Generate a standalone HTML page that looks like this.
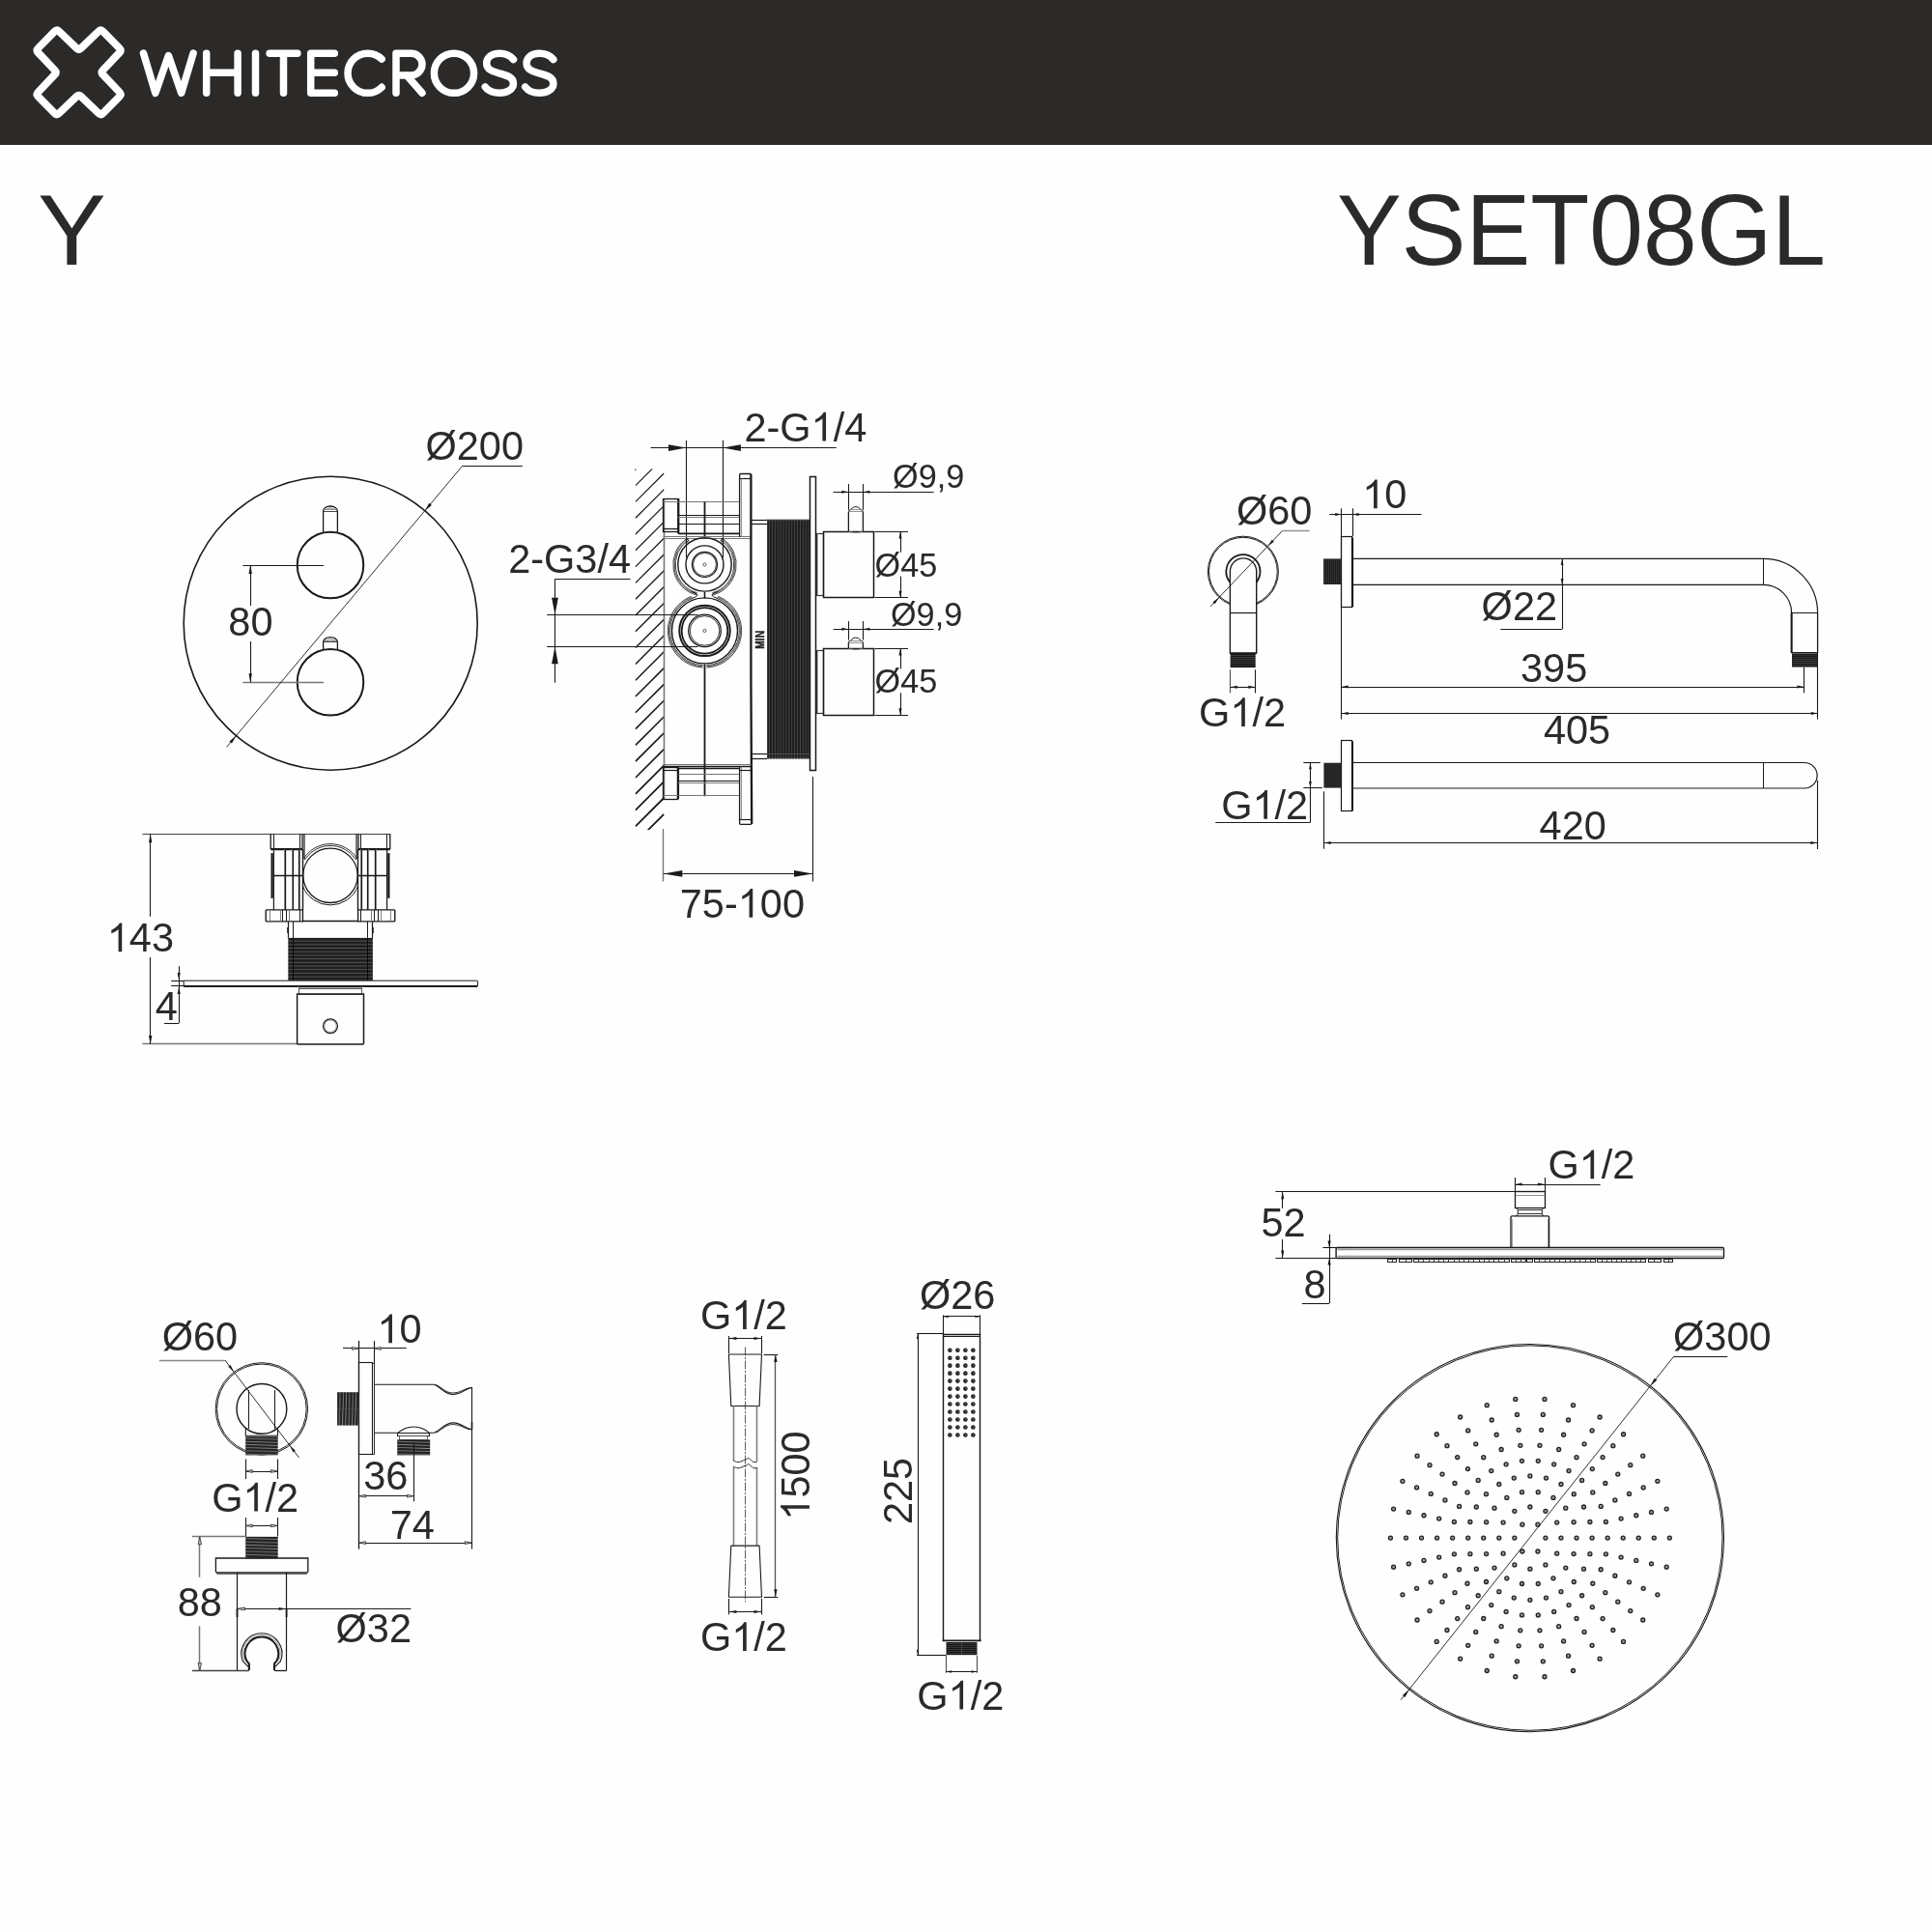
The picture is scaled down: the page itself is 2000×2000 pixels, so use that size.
<!DOCTYPE html>
<html><head><meta charset="utf-8"><title>YSET08GL</title><style>
html,body{margin:0;padding:0;background:#fefefe;width:2000px;height:2000px;overflow:hidden}
svg{display:block;will-change:transform}
text{font-family:"Liberation Sans",sans-serif;fill:#2b2a29}
</style></head><body>
<svg width="2000" height="2000" viewBox="0 0 2000 2000">
<rect x="0" y="0" width="2000" height="150" fill="#2b2a29"/>
<path d="M56.6 32.58Q58.85 30.3 61.16 32.52L79.29 49.93Q81.6 52.15 83.91 49.93L102.04 32.52Q104.35 30.3 106.6 32.58L123.65 49.87Q125.9 52.15 123.7 54.47L106.55 72.58Q104.35 74.9 106.55 77.22L123.7 95.33Q125.9 97.65 123.65 99.93L106.6 117.22Q104.35 119.5 102.04 117.28L83.91 99.87Q81.6 97.65 79.29 99.87L61.16 117.28Q58.85 119.5 56.6 117.22L39.55 99.93Q37.3 97.65 39.5 95.33L56.65 77.22Q58.85 74.9 56.65 72.58L39.5 54.47Q37.3 52.15 39.55 49.87Z" fill="none" stroke="#fff" stroke-width="7.8" stroke-linejoin="round"/>
<path d="M148.5 55.2L160.9 96.3L174.4 57.5L187.7 96.3L200.1 55.2" fill="none" stroke="#fff" stroke-width="7.5" stroke-linecap="round" stroke-linejoin="round"/>
<path d="M213.7 55.2V96.3M246.1 55.2V96.3M213.7 75.2H246.1" fill="none" stroke="#fff" stroke-width="7.5" stroke-linecap="round" stroke-linejoin="round"/>
<path d="M264.5 55.2V96.3" fill="none" stroke="#fff" stroke-width="7.5" stroke-linecap="round" stroke-linejoin="round"/>
<path d="M279.1 55.2H307.9M293.5 55.2V96.3" fill="none" stroke="#fff" stroke-width="7.5" stroke-linecap="round" stroke-linejoin="round"/>
<path d="M346.3 55.2H321.7V96.3H346.3M321.7 75.2H346.3" fill="none" stroke="#fff" stroke-width="7.5" stroke-linecap="round" stroke-linejoin="round"/>
<path d="M395.17 61.18A20.6 20.6 0 1 0 395.17 90.32" fill="none" stroke="#fff" stroke-width="7.5" stroke-linecap="round" stroke-linejoin="round"/>
<path d="M410 96.3V55.2H425.6A11.4 11.4 0 0 1 425.6 78H410M421 78L437 96.3" fill="none" stroke="#fff" stroke-width="7.5" stroke-linecap="round" stroke-linejoin="round"/>
<circle cx="470" cy="75.75" r="20.6" fill="none" stroke="#fff" stroke-width="7.5"/>
<path d="M531.5 61.6C527.9 57 522.9 55.2 516.9 55.2C508.9 55.2 503.7 59.5 503.7 65.5C503.7 72 509.9 74 516.9 76C524.9 78 531.5 80 531.5 86.5C531.5 92.5 524.9 96.3 516.9 96.3C510.9 96.3 505.4 94 502.3 90" fill="none" stroke="#fff" stroke-width="7.5" stroke-linecap="round" stroke-linejoin="round"/>
<path d="M572.9 61.6C569.3 57 564.3 55.2 558.3 55.2C550.3 55.2 545.1 59.5 545.1 65.5C545.1 72 551.3 74 558.3 76C566.3 78 572.9 80 572.9 86.5C572.9 92.5 566.3 96.3 558.3 96.3C552.3 96.3 546.8 94 543.7 90" fill="none" stroke="#fff" stroke-width="7.5" stroke-linecap="round" stroke-linejoin="round"/>
<g transform="translate(38.97 274)"><text transform="scale(1.06 1.04)" x="0" y="0" font-size="100">Y</text></g>
<g transform="translate(1384.1 274.3)"><text transform="scale(1.0 1.04)" x="0 66.7 133.4 200.1 261.18 316.8 372.42 450.2" y="0" font-size="100">YSET08GL</text></g>
<circle cx="342.2" cy="645.2" r="152" stroke="#1a1a1a" stroke-width="1.6" fill="none"/>
<circle cx="342" cy="585" r="34.3" stroke="#1a1a1a" stroke-width="2.0" fill="none"/>
<path d="M334.6 551.6V529.2A7.4 5.2 0 0 1 349.4 529.2V551.6" stroke="#1a1a1a" stroke-width="1.3" fill="none" />
<path d="M337.8 527.4A5 3 0 0 1 346.2 527.4" stroke="#555" stroke-width="0.7" fill="none" />
<path d="M334.6 529.5L349.4 529.5" stroke="#333" stroke-width="0.9" fill="none" />
<path d="M335.1 527.5L348.9 527.5" stroke="#666" stroke-width="0.7" fill="none" />
<circle cx="342" cy="706.2" r="34.3" stroke="#1a1a1a" stroke-width="2.0" fill="none"/>
<path d="M334.6 672.8V664.8A7.4 5.2 0 0 1 349.4 664.8V672.8" stroke="#1a1a1a" stroke-width="1.3" fill="none" />
<path d="M337.8 663A5 3 0 0 1 346.2 663" stroke="#555" stroke-width="0.7" fill="none" />
<path d="M334.6 664.5L349.4 664.5" stroke="#333" stroke-width="0.9" fill="none" />
<path d="M335.1 663.5L348.9 663.5" stroke="#666" stroke-width="0.7" fill="none" />
<path d="M251.4 585.5L335 585.5" stroke="#1a1a1a" stroke-width="1.2" fill="none" />
<path d="M251.4 706.5L335 706.5" stroke="#777" stroke-width="1.5" fill="none" />
<path d="M259.5 585L259.5 627" stroke="#1a1a1a" stroke-width="1.1" fill="none" />
<path d="M259.5 664L259.5 706.2" stroke="#1a1a1a" stroke-width="1.1" fill="none" />
<path d="M259.2 585L260.9 594L257.5 594Z" fill="#1a1a1a"/>
<path d="M259.2 706.2L257.5 697.2L260.9 697.2Z" fill="#1a1a1a"/>
<g transform="translate(236.34 658)"><text transform="scale(1.0 1.04)" x="0 23.08" y="0" font-size="41.5">80</text></g>
<path d="M478.7 482.3L234.6 773.4" stroke="#1a1a1a" stroke-width="0.9" fill="none" />
<path d="M439.81 528.68L444.29 520.69L446.89 522.88Z" fill="#1a1a1a"/>
<path d="M244.48 761.62L240 769.61L237.39 767.43Z" fill="#1a1a1a"/>
<path d="M478.7 482.5L540.8 482.5" stroke="#1a1a1a" stroke-width="1.1" fill="none" />
<g transform="translate(440.51 475.8)"><text transform="scale(1.0 1.04)" x="0 32.28 55.36 78.44" y="0" font-size="41.5">Ø200</text></g>
<clipPath id="hc"><rect x="657.3" y="485.5" width="30.4" height="373.6"/></clipPath>
<g clip-path="url(#hc)">
<path d="M657.9 502.6L687.3 473.2" stroke="#1a1a1a" stroke-width="1.15" fill="none" />
<path d="M657.9 519.4L687.3 490" stroke="#1a1a1a" stroke-width="1.18" fill="none" />
<path d="M657.9 536.2L687.3 506.8" stroke="#1a1a1a" stroke-width="1.21" fill="none" />
<path d="M657.9 553L687.3 523.6" stroke="#1a1a1a" stroke-width="1.24" fill="none" />
<path d="M657.9 569.8L687.3 540.4" stroke="#1a1a1a" stroke-width="1.27" fill="none" />
<path d="M657.9 586.6L687.3 557.2" stroke="#1a1a1a" stroke-width="1.2999999999999998" fill="none" />
<path d="M657.9 603.4L687.3 574" stroke="#1a1a1a" stroke-width="1.3299999999999998" fill="none" />
<path d="M657.9 620.2L687.3 590.8" stroke="#1a1a1a" stroke-width="1.3599999999999999" fill="none" />
<path d="M657.9 637L687.3 607.6" stroke="#1a1a1a" stroke-width="1.39" fill="none" />
<path d="M657.9 653.8L687.3 624.4" stroke="#1a1a1a" stroke-width="1.42" fill="none" />
<path d="M657.9 670.6L687.3 641.2" stroke="#1a1a1a" stroke-width="1.45" fill="none" />
<path d="M657.9 687.4L687.3 658" stroke="#1a1a1a" stroke-width="1.48" fill="none" />
<path d="M657.9 704.2L687.3 674.8" stroke="#1a1a1a" stroke-width="1.5099999999999998" fill="none" />
<path d="M657.9 721L687.3 691.6" stroke="#1a1a1a" stroke-width="1.54" fill="none" />
<path d="M657.9 737.8L687.3 708.4" stroke="#1a1a1a" stroke-width="1.5699999999999998" fill="none" />
<path d="M657.9 754.6L687.3 725.2" stroke="#1a1a1a" stroke-width="1.5999999999999999" fill="none" />
<path d="M657.9 771.4L687.3 742" stroke="#1a1a1a" stroke-width="1.63" fill="none" />
<path d="M657.9 788.2L687.3 758.8" stroke="#1a1a1a" stroke-width="1.66" fill="none" />
<path d="M657.9 805L687.3 775.6" stroke="#1a1a1a" stroke-width="1.69" fill="none" />
<path d="M657.9 821.8L687.3 792.4" stroke="#1a1a1a" stroke-width="1.7199999999999998" fill="none" />
<path d="M657.9 838.6L687.3 809.2" stroke="#1a1a1a" stroke-width="1.75" fill="none" />
<path d="M657.9 855.4L687.3 826" stroke="#1a1a1a" stroke-width="1.7799999999999998" fill="none" />
<path d="M657.9 872.2L687.3 842.8" stroke="#1a1a1a" stroke-width="1.8099999999999998" fill="none" />
<path d="M657.9 889L687.3 859.6" stroke="#1a1a1a" stroke-width="1.8399999999999999" fill="none" />
</g>
<circle cx="657.9" cy="486.3" r="0.7" stroke="#1a1a1a" stroke-width="0" fill="#1a1a1a"/>
<path d="M687.5 516.4L687.5 827.3" stroke="#777" stroke-width="1.6" fill="none" />
<path d="M673.6 463.5L865.8 463.5" stroke="#1a1a1a" stroke-width="1.1" fill="none" />
<path d="M710.5 455.9L710.5 577.3" stroke="#1a1a1a" stroke-width="1.1" fill="none" />
<path d="M748.5 455.9L748.5 577.3" stroke="#1a1a1a" stroke-width="1.1" fill="none" />
<path d="M710.4 463.6L692 467L692 460.2Z" fill="#1a1a1a"/>
<path d="M748.5 463.6L766.9 460.2L766.9 467Z" fill="#1a1a1a"/>
<g transform="translate(770.42 456.5)"><text transform="scale(1.0 1.04)" x="0 23.08 36.9 92.26 103.79" y="0" font-size="41.5">2-G/4</text><path transform="translate(69.18 0) scale(0.02026 -0.02026)" d="M763 0H583V1147Q518 1085 412.5 1023T223 930V1104Q374 1175 487 1276T647 1472H763Z" fill="#2b2a29"/></g>
<rect x="686.5" y="516.5" width="16" height="34" stroke="#1a1a1a" stroke-width="1.3" fill="none"/>
<path d="M702.2 516.6L702.2 552.4" stroke="#1a1a1a" stroke-width="2.2" fill="none" />
<path d="M686.6 519.5L702.2 519.5" stroke="#777" stroke-width="1.0" fill="none" />
<path d="M686.6 547.5L702.2 547.5" stroke="#1a1a1a" stroke-width="1.3" fill="none" />
<path d="M702.2 519.5L765.8 519.5" stroke="#777" stroke-width="1.2" fill="none" />
<path d="M702.2 533.5L765.8 533.5" stroke="#1a1a1a" stroke-width="1.2" fill="none" />
<path d="M702.2 535.5L765.8 535.5" stroke="#777" stroke-width="1.0" fill="none" />
<path d="M702.2 542.5L765.8 542.5" stroke="#1a1a1a" stroke-width="1.2" fill="none" />
<path d="M702.2 552.4L765.8 552.4" stroke="#1a1a1a" stroke-width="1.8" fill="none" />
<path d="M729.5 519.4L729.5 556" stroke="#1a1a1a" stroke-width="1.8" fill="none" />
<path d="M686.6 555.5L777.5 555.5" stroke="#777" stroke-width="1.0" fill="none" />
<path d="M686.6 557.5L777.5 557.5" stroke="#777" stroke-width="1.0" fill="none" />
<path d="M765.6 556V491.5Q765.6 490.5 766.6 490.5H776.5Q777.5 490.5 777.5 491.5" stroke="#1a1a1a" stroke-width="1.3" fill="none" />
<path d="M765.6 495.5L777.5 495.5" stroke="#1a1a1a" stroke-width="1.2" fill="none" />
<path d="M767.5 495.2L767.5 556" stroke="#777" stroke-width="0.8" fill="none" />
<path d="M777.4 491V700L778.2 853" stroke="#1a1a1a" stroke-width="2.3" fill="none" />
<path d="M686.6 791.5L777.5 791.5" stroke="#777" stroke-width="1.0" fill="none" />
<path d="M686.6 793.5L777.5 793.5" stroke="#1a1a1a" stroke-width="1.6" fill="none" />
<path d="M721.04 615.99A32.7 32.7 0 0 1 711.69 556.98" stroke="#1a1a1a" stroke-width="0.8" fill="none" />
<path d="M737.96 615.99A32.7 32.7 0 0 0 747.31 556.98" stroke="#1a1a1a" stroke-width="0.8" fill="none" />
<path d="M721.35 614.83A31.5 31.5 0 0 1 712.34 557.98" stroke="#1a1a1a" stroke-width="0.8" fill="none" />
<path d="M737.65 614.83A31.5 31.5 0 0 0 746.66 557.98" stroke="#1a1a1a" stroke-width="0.8" fill="none" />
<path d="M721.66 613.67A30.3 30.3 0 0 1 713 558.99" stroke="#1a1a1a" stroke-width="0.8" fill="none" />
<path d="M737.34 613.67A30.3 30.3 0 0 0 746 558.99" stroke="#1a1a1a" stroke-width="0.8" fill="none" />
<circle cx="729.5" cy="584.4" r="27.7" stroke="#1a1a1a" stroke-width="1.4" fill="none"/>
<circle cx="729.5" cy="584.4" r="19.5" stroke="#1a1a1a" stroke-width="1.4" fill="none"/>
<circle cx="729.5" cy="584.4" r="13" stroke="#1a1a1a" stroke-width="1.3" fill="none"/>
<circle cx="729.5" cy="584.4" r="11.9" stroke="#1a1a1a" stroke-width="0.8" fill="none"/>
<circle cx="729.5" cy="584.4" r="1.6" stroke="#1a1a1a" stroke-width="0.7" fill="none"/>
<path d="M710.5 556.5L712.8 559.3L711.3 561.5" stroke="#1a1a1a" stroke-width="1.0" fill="none" />
<path d="M748.5 556.5L746.2 559.3L747.7 561.5" stroke="#1a1a1a" stroke-width="1.0" fill="none" />
<path d="M729.5 613L729.5 619.7" stroke="#1a1a1a" stroke-width="1.6" fill="none" />
<path d="M716 612.5Q721.5 614 722.2 616Q721.5 618 716 619.5" stroke="#1a1a1a" stroke-width="1.0" fill="none" />
<path d="M743 612.5Q737.5 614 736.8 616Q737.5 618 743 619.5" stroke="#1a1a1a" stroke-width="1.0" fill="none" />
<path d="M727.5 691.05A38.2 38.2 0 0 1 715.81 617.24" stroke="#1a1a1a" stroke-width="0.8" fill="none" />
<path d="M731.5 691.05A38.2 38.2 0 0 0 743.19 617.24" stroke="#1a1a1a" stroke-width="0.8" fill="none" />
<path d="M727.56 689.85A37 37 0 0 1 716.24 618.36" stroke="#1a1a1a" stroke-width="0.8" fill="none" />
<path d="M731.44 689.85A37 37 0 0 0 742.76 618.36" stroke="#1a1a1a" stroke-width="0.8" fill="none" />
<path d="M727.63 688.65A35.8 35.8 0 0 1 716.67 619.48" stroke="#1a1a1a" stroke-width="0.8" fill="none" />
<path d="M731.37 688.65A35.8 35.8 0 0 0 742.33 619.48" stroke="#1a1a1a" stroke-width="0.8" fill="none" />
<circle cx="729.5" cy="652.9" r="34" stroke="#1a1a1a" stroke-width="1.4" fill="none"/>
<circle cx="729.5" cy="652.9" r="26.2" stroke="#1a1a1a" stroke-width="2.0" fill="none"/>
<circle cx="729.5" cy="652.9" r="23.8" stroke="#1a1a1a" stroke-width="1.8" fill="none"/>
<circle cx="729.5" cy="652.9" r="16.8" stroke="#1a1a1a" stroke-width="1.3" fill="none"/>
<circle cx="729.5" cy="652.9" r="15.3" stroke="#1a1a1a" stroke-width="0.9" fill="none"/>
<circle cx="729.5" cy="652.9" r="1.6" stroke="#1a1a1a" stroke-width="0.7" fill="none"/>
<path d="M729.5 687.5L729.5 824.3" stroke="#1a1a1a" stroke-width="1.8" fill="none" />
<path d="M566.1 636.5L722.4 636.5" stroke="#1a1a1a" stroke-width="1.1" fill="none" />
<path d="M566.1 669.5L722.4 669.5" stroke="#1a1a1a" stroke-width="1.1" fill="none" />
<path d="M574.5 599.5L574.5 706.7" stroke="#1a1a1a" stroke-width="1.1" fill="none" />
<path d="M574.5 599.5L652.6 599.5" stroke="#1a1a1a" stroke-width="1.1" fill="none" />
<path d="M574.5 636.3L571.1 618.7L577.9 618.7Z" fill="#1a1a1a"/>
<path d="M574.5 669.6L577.9 687.2L571.1 687.2Z" fill="#1a1a1a"/>
<g transform="translate(526.17 593)"><text transform="scale(1.0 1.04)" x="0 23.08 36.9 69.18 92.26 103.79" y="0" font-size="41.5">2-G3/4</text></g>
<pattern id="thr" x="794.1" y="0" width="2.9" height="10" patternUnits="userSpaceOnUse"><rect width="2.9" height="10" fill="#1c1c1c"/><rect x="2.0" width="0.9" height="10" fill="#4a4a4a"/></pattern>
<path d="M794.1 537.8H838.3L839 785.5H794.1Z" stroke="#1a1a1a" stroke-width="0" fill="url(#thr)" />
<path d="M794.1 538.5L838.3 538.5" stroke="#555" stroke-width="1.6" fill="none" stroke-dasharray="1.4 1.5"/>
<path d="M794.1 784.5L838.8 784.5" stroke="#444" stroke-width="1.6" fill="none" stroke-dasharray="1.4 1.5"/>
<path d="M794.1 780.5L838.8 780.5" stroke="#555" stroke-width="0.8" fill="none" />
<path d="M777.5 538.5L794.1 538.5" stroke="#1a1a1a" stroke-width="1.2" fill="none" />
<path d="M777.5 542.5L794.1 542.5" stroke="#1a1a1a" stroke-width="1.2" fill="none" />
<path d="M778 780.5L794.1 780.5" stroke="#1a1a1a" stroke-width="1.2" fill="none" />
<path d="M778 785.5L794.1 785.5" stroke="#1a1a1a" stroke-width="1.2" fill="none" />
<rect x="838.5" y="493.5" width="6" height="304" stroke="#1a1a1a" stroke-width="1.5" fill="#fefefe"/>
<text transform="translate(791 671.7) rotate(-90)" font-size="12.3" font-weight="bold" textLength="18.8" lengthAdjust="spacingAndGlyphs" fill="#1a1a1a" stroke="#1a1a1a" stroke-width="0.5">MIN</text>
<rect x="845.5" y="552.5" width="7" height="64" stroke="#333" stroke-width="1.2" fill="none"/>
<path d="M846.5 552.4L846.5 616.6" stroke="#999" stroke-width="0.8" fill="none" />
<rect x="852.5" y="550.5" width="52" height="68" stroke="#1a1a1a" stroke-width="1.5" fill="none"/>
<path d="M878.4 550.4V529.8M893.4 550.4V529.8" stroke="#1a1a1a" stroke-width="1.3" fill="none" />
<path d="M878.4 529.9Q878.4 527.9 880.4 527.7Q885.9 521.3 891.4 527.7Q893.4 527.9 893.4 529.9" stroke="#1a1a1a" stroke-width="1.0" fill="none" />
<path d="M878.4 529.5L893.4 529.5" stroke="#777" stroke-width="0.8" fill="none" />
<path d="M879.9 527.5L891.9 527.5" stroke="#777" stroke-width="0.8" fill="none" />
<path d="M878.4 550.4Q885.9 552.9 893.4 550.4" stroke="#777" stroke-width="0.8" fill="none" />
<rect x="845.5" y="673.5" width="7" height="65" stroke="#333" stroke-width="1.2" fill="none"/>
<path d="M846.5 673.4L846.5 738" stroke="#999" stroke-width="0.8" fill="none" />
<rect x="852.5" y="671.5" width="52" height="69" stroke="#1a1a1a" stroke-width="1.5" fill="none"/>
<path d="M878.4 671.4V665.3M893.4 671.4V665.3" stroke="#1a1a1a" stroke-width="1.3" fill="none" />
<path d="M878.4 665.4Q878.4 663.4 880.4 663.2Q885.9 656.8 891.4 663.2Q893.4 663.4 893.4 665.4" stroke="#1a1a1a" stroke-width="1.0" fill="none" />
<path d="M878.4 665.5L893.4 665.5" stroke="#777" stroke-width="0.8" fill="none" />
<path d="M879.9 663.5L891.9 663.5" stroke="#777" stroke-width="0.8" fill="none" />
<path d="M878.4 671.4Q885.9 673.9 893.4 671.4" stroke="#777" stroke-width="0.8" fill="none" />
<path d="M862.6 509.5L966.6 509.5" stroke="#1a1a1a" stroke-width="1.1" fill="none" />
<path d="M878.5 501L878.5 527.8" stroke="#1a1a1a" stroke-width="1.1" fill="none" />
<path d="M893.5 501L893.5 527.8" stroke="#1a1a1a" stroke-width="1.1" fill="none" />
<path d="M878.4 509.3L871.4 510.8L871.4 507.8Z" fill="#1a1a1a"/>
<path d="M893.4 509.3L900.4 507.8L900.4 510.8Z" fill="#1a1a1a"/>
<path d="M862.6 651.5L966.6 651.5" stroke="#1a1a1a" stroke-width="1.1" fill="none" />
<path d="M878.5 643.1L878.5 662.5" stroke="#1a1a1a" stroke-width="1.1" fill="none" />
<path d="M893.5 643.1L893.5 662.5" stroke="#1a1a1a" stroke-width="1.1" fill="none" />
<path d="M878.4 651.2L871.4 652.7L871.4 649.7Z" fill="#1a1a1a"/>
<path d="M893.4 651.2L900.4 649.7L900.4 652.7Z" fill="#1a1a1a"/>
<g transform="translate(924.12 505.4)"><text transform="scale(1.0 1.04)" x="0 26.6 45.62 55.13" y="0" font-size="34.2">Ø9,9</text></g>
<g transform="translate(922.02 648.1)"><text transform="scale(1.0 1.04)" x="0 26.6 45.62 55.13" y="0" font-size="34.2">Ø9,9</text></g>
<path d="M905.5 550.5L940 550.5" stroke="#1a1a1a" stroke-width="1.1" fill="none" />
<path d="M905.5 618.5L940 618.5" stroke="#1a1a1a" stroke-width="1.1" fill="none" />
<path d="M932.5 550.4L932.5 571.7" stroke="#1a1a1a" stroke-width="1.1" fill="none" />
<path d="M932.5 596.6L932.5 618.8" stroke="#1a1a1a" stroke-width="1.1" fill="none" />
<path d="M932 550.4L933.5 557.4L930.5 557.4Z" fill="#1a1a1a"/>
<path d="M932 618.8L930.5 611.8L933.5 611.8Z" fill="#1a1a1a"/>
<g transform="translate(905.58 596.6)"><text transform="scale(1.0 1.04)" x="0 26.6 45.62" y="0" font-size="34.2">Ø45</text></g>
<path d="M905.5 671.5L940 671.5" stroke="#1a1a1a" stroke-width="1.1" fill="none" />
<path d="M905.5 740.5L940 740.5" stroke="#1a1a1a" stroke-width="1.1" fill="none" />
<path d="M932.5 671.4L932.5 692.4" stroke="#1a1a1a" stroke-width="1.1" fill="none" />
<path d="M932.5 717.2L932.5 740.2" stroke="#1a1a1a" stroke-width="1.1" fill="none" />
<path d="M932 671.4L933.5 678.4L930.5 678.4Z" fill="#1a1a1a"/>
<path d="M932 740.2L930.5 733.2L933.5 733.2Z" fill="#1a1a1a"/>
<g transform="translate(905.58 717.2)"><text transform="scale(1.0 1.04)" x="0 26.6 45.62" y="0" font-size="34.2">Ø45</text></g>
<rect x="686.5" y="794.5" width="15" height="33" stroke="#1a1a1a" stroke-width="1.3" fill="none"/>
<path d="M702 794.3L702 827.3" stroke="#1a1a1a" stroke-width="2.2" fill="none" />
<path d="M686.6 797.5L701.9 797.5" stroke="#1a1a1a" stroke-width="1.2" fill="none" />
<path d="M686.6 823.5L701.9 823.5" stroke="#777" stroke-width="1.0" fill="none" />
<path d="M702.2 795.5L765.4 795.5" stroke="#1a1a1a" stroke-width="1.4" fill="none" />
<path d="M702.2 801.5L765.4 801.5" stroke="#777" stroke-width="1.0" fill="none" />
<path d="M702.2 808.5L765.4 808.5" stroke="#1a1a1a" stroke-width="1.2" fill="none" />
<path d="M702.2 810.5L765.4 810.5" stroke="#777" stroke-width="1.0" fill="none" />
<path d="M702.2 823.5L765.4 823.5" stroke="#777" stroke-width="1.2" fill="none" />
<path d="M765.6 793.6V852.3Q765.6 853.3 766.6 853.3H777Q778 853.3 778 852.3" stroke="#1a1a1a" stroke-width="1.3" fill="none" />
<path d="M765.6 848.5L778 848.5" stroke="#1a1a1a" stroke-width="1.2" fill="none" />
<path d="M767.5 793.6L767.5 848.4" stroke="#777" stroke-width="0.8" fill="none" />
<path d="M765.6 797.5L777.5 797.5" stroke="#1a1a1a" stroke-width="1.2" fill="none" />
<path d="M686.5 858L686.5 912.5" stroke="#777" stroke-width="1.4" fill="none" />
<path d="M841.5 804.1L841.5 912.5" stroke="#1a1a1a" stroke-width="1.1" fill="none" />
<path d="M686.8 904.5L841.5 904.5" stroke="#1a1a1a" stroke-width="1.1" fill="none" />
<path d="M686.8 904.4L706.3 901L706.3 907.8Z" fill="#1a1a1a"/>
<path d="M841.5 904.4L822 907.8L822 901Z" fill="#1a1a1a"/>
<g transform="translate(703.8 949.8)"><text transform="scale(1.0 1.04)" x="0 23.08 46.16 83.06 106.14" y="0" font-size="41.5">75-00</text><path transform="translate(59.98 0) scale(0.02026 -0.02026)" d="M763 0H583V1147Q518 1085 412.5 1023T223 930V1104Q374 1175 487 1276T647 1472H763Z" fill="#2b2a29"/></g>
<path d="M147.4 863.5L404.1 863.5" stroke="#444" stroke-width="1.2" fill="none" />
<path d="M147.4 1080.5L307.6 1080.5" stroke="#777" stroke-width="1.5" fill="none" />
<path d="M155.5 863.3L155.5 948.7" stroke="#1a1a1a" stroke-width="1.1" fill="none" />
<path d="M155.5 991L155.5 1080.9" stroke="#1a1a1a" stroke-width="1.1" fill="none" />
<path d="M155.7 863.3L157.4 872.3L154 872.3Z" fill="#1a1a1a"/>
<path d="M155.7 1080.9L154 1071.9L157.4 1071.9Z" fill="#1a1a1a"/>
<g transform="translate(110.78 985.2)"><text transform="scale(1.0 1.04)" x="23.08 46.16" y="0" font-size="41.5">43</text><path transform="translate(0 0) scale(0.02026 -0.02026)" d="M763 0H583V1147Q518 1085 412.5 1023T223 930V1104Q374 1175 487 1276T647 1472H763Z" fill="#2b2a29"/></g>
<path d="M371 863.3L371 878.6L403.8 878.6L403.8 863.3" stroke="#1a1a1a" stroke-width="1.3" fill="none" stroke-linejoin="round"/>
<path d="M373.5 863.3L373.5 878.6" stroke="#1a1a1a" stroke-width="1.0" fill="none" />
<path d="M400.5 863.3L400.5 878.6" stroke="#1a1a1a" stroke-width="1.0" fill="none" />
<path d="M371 879.5L403.8 879.5" stroke="#1a1a1a" stroke-width="1.4" fill="none" />
<path d="M369 863.3V888.5L367.8 889.8" stroke="#1a1a1a" stroke-width="1.2" fill="none" />
<path d="M400.6 879L400.6 941.9" stroke="#1a1a1a" stroke-width="1.2" fill="none" stroke-linejoin="round"/>
<path d="M370.5 879L370.5 941.9" stroke="#1a1a1a" stroke-width="1.4" fill="none" />
<path d="M373.5 879L373.5 941.9" stroke="#777" stroke-width="0.9" fill="none" />
<path d="M374.5 879L374.5 941.9" stroke="#1a1a1a" stroke-width="1.2" fill="none" />
<path d="M380.5 879L380.5 941.9" stroke="#1a1a1a" stroke-width="1.2" fill="none" />
<path d="M381.5 879L381.5 941.9" stroke="#777" stroke-width="0.9" fill="none" />
<path d="M388.5 879L388.5 941.9" stroke="#1a1a1a" stroke-width="1.3" fill="none" />
<path d="M389.5 879L389.5 941.9" stroke="#777" stroke-width="0.9" fill="none" />
<path d="M370.4 906.5L400.6 906.5" stroke="#1a1a1a" stroke-width="1.5" fill="none" />
<path d="M402.2 884V929" stroke="#1a1a1a" stroke-width="1.9" stroke-linecap="round" fill="none"/>
<path d="M403.5 883L403.5 930" stroke="#777" stroke-width="0.8" fill="none" />
<path d="M370.6 941.9H408Q408.8 941.9 408.8 942.7V953.1Q408.8 953.9 408 953.9H370.6Z" stroke="#1a1a1a" stroke-width="1.4" fill="none" />
<path d="M373.5 941.9L373.5 953.9" stroke="#1a1a1a" stroke-width="1.0" fill="none" />
<path d="M384.5 941.9L384.5 953.9" stroke="#777" stroke-width="1.0" fill="none" />
<path d="M387.5 941.9L387.5 953.9" stroke="#1a1a1a" stroke-width="1.0" fill="none" />
<path d="M391.5 941.9L391.5 953.9" stroke="#1a1a1a" stroke-width="1.0" fill="none" />
<path d="M394.5 941.9L394.5 953.9" stroke="#777" stroke-width="0.9" fill="none" />
<path d="M404.5 941.9L404.5 953.9" stroke="#777" stroke-width="0.9" fill="none" />
<path d="M385.5 953.9L385.5 970.9" stroke="#1a1a1a" stroke-width="1.2" fill="none" />
<path d="M380.5 953.9L380.5 970.9" stroke="#1a1a1a" stroke-width="1.0" fill="none" />
<path d="M385.9 960L385.9 966" stroke="#1a1a1a" stroke-width="1.8" fill="none" />
<path d="M313 863.3L313 878.6L280.2 878.6L280.2 863.3" stroke="#1a1a1a" stroke-width="1.3" fill="none" stroke-linejoin="round"/>
<path d="M310.5 863.3L310.5 878.6" stroke="#1a1a1a" stroke-width="1.0" fill="none" />
<path d="M283.5 863.3L283.5 878.6" stroke="#1a1a1a" stroke-width="1.0" fill="none" />
<path d="M313 879.5L280.2 879.5" stroke="#1a1a1a" stroke-width="1.4" fill="none" />
<path d="M315 863.3V888.5L316.2 889.8" stroke="#1a1a1a" stroke-width="1.2" fill="none" />
<path d="M283.4 879L283.4 941.9" stroke="#1a1a1a" stroke-width="1.2" fill="none" stroke-linejoin="round"/>
<path d="M313.5 879L313.5 941.9" stroke="#1a1a1a" stroke-width="1.4" fill="none" />
<path d="M310.5 879L310.5 941.9" stroke="#777" stroke-width="0.9" fill="none" />
<path d="M309.5 879L309.5 941.9" stroke="#1a1a1a" stroke-width="1.2" fill="none" />
<path d="M303.5 879L303.5 941.9" stroke="#1a1a1a" stroke-width="1.2" fill="none" />
<path d="M302.5 879L302.5 941.9" stroke="#777" stroke-width="0.9" fill="none" />
<path d="M295.5 879L295.5 941.9" stroke="#1a1a1a" stroke-width="1.3" fill="none" />
<path d="M294.5 879L294.5 941.9" stroke="#777" stroke-width="0.9" fill="none" />
<path d="M313.6 906.5L283.4 906.5" stroke="#1a1a1a" stroke-width="1.5" fill="none" />
<path d="M281.8 884V929" stroke="#1a1a1a" stroke-width="1.9" stroke-linecap="round" fill="none"/>
<path d="M280.5 883L280.5 930" stroke="#777" stroke-width="0.8" fill="none" />
<path d="M313.4 941.9H276Q275.2 941.9 275.2 942.7V953.1Q275.2 953.9 276 953.9H313.4Z" stroke="#1a1a1a" stroke-width="1.4" fill="none" />
<path d="M310.5 941.9L310.5 953.9" stroke="#1a1a1a" stroke-width="1.0" fill="none" />
<path d="M299.5 941.9L299.5 953.9" stroke="#777" stroke-width="1.0" fill="none" />
<path d="M296.5 941.9L296.5 953.9" stroke="#1a1a1a" stroke-width="1.0" fill="none" />
<path d="M292.5 941.9L292.5 953.9" stroke="#1a1a1a" stroke-width="1.0" fill="none" />
<path d="M290.5 941.9L290.5 953.9" stroke="#777" stroke-width="0.9" fill="none" />
<path d="M279.5 941.9L279.5 953.9" stroke="#777" stroke-width="0.9" fill="none" />
<path d="M298.5 953.9L298.5 970.9" stroke="#1a1a1a" stroke-width="1.2" fill="none" />
<path d="M303.5 953.9L303.5 970.9" stroke="#1a1a1a" stroke-width="1.0" fill="none" />
<path d="M298.1 960L298.1 966" stroke="#1a1a1a" stroke-width="1.8" fill="none" />
<path d="M313.4 953.5L370.6 953.5" stroke="#1a1a1a" stroke-width="1.3" fill="none" />
<circle cx="342" cy="906.3" r="28.2" stroke="#1a1a1a" stroke-width="1.3" fill="none"/>
<path d="M314.58 888.49A32.7 32.7 0 0 1 369.42 888.49" stroke="#1a1a1a" stroke-width="0.9" fill="none" />
<path d="M316.69 888.58A30.9 30.9 0 0 1 367.31 888.58" stroke="#1a1a1a" stroke-width="0.9" fill="none" />
<path d="M370.57 917.27A30.6 30.6 0 0 1 313.43 917.27" stroke="#1a1a1a" stroke-width="1.0" fill="none" />
<pattern id="thr2" x="0" y="970.9" width="10" height="3.7" patternUnits="userSpaceOnUse"><rect width="10" height="3.7" fill="#1e1e1e"/><rect y="2.7" width="10" height="1.0" fill="#555"/></pattern>
<rect x="298.3" y="970.9" width="87.6" height="44.1" stroke="#1a1a1a" stroke-width="0" fill="url(#thr2)"/>
<path d="M303.5 970.9L303.5 1015" stroke="#000" stroke-width="0.8" fill="none" />
<path d="M380.5 970.9L380.5 1015" stroke="#000" stroke-width="0.8" fill="none" />
<path d="M190.2 1015.2H493.8Q494.6 1015.2 494.6 1016V1020.2Q494.6 1021 493.8 1021H190.2Z" stroke="#1a1a1a" stroke-width="1.0" fill="#fefefe" />
<path d="M190.2 1021L494.2 1021" stroke="#1a1a1a" stroke-width="2.0" fill="none" />
<path d="M308.6 1020.9L309.8 1023H374.2L375.4 1020.9" stroke="#777" stroke-width="1.0" fill="none" />
<rect x="309.5" y="1023.5" width="65" height="6" stroke="#555" stroke-width="1.0" fill="none"/>
<path d="M307.6 1029.1H376.5V1080.1Q376.5 1080.9 375.7 1080.9H308.4Q307.6 1080.9 307.6 1080.1Z" stroke="#1a1a1a" stroke-width="1.5" fill="none" />
<circle cx="342" cy="1062.2" r="7.4" stroke="#1a1a1a" stroke-width="1.3" fill="none"/>
<circle cx="342" cy="1062.2" r="6.2" stroke="#777" stroke-width="0.7" fill="none"/>
<path d="M177.2 1015.5L190.2 1015.5" stroke="#1a1a1a" stroke-width="1.1" fill="none" />
<path d="M177.2 1020.5L190.2 1020.5" stroke="#1a1a1a" stroke-width="1.1" fill="none" />
<path d="M185.5 1000.2L185.5 1059.1" stroke="#1a1a1a" stroke-width="1.1" fill="none" />
<path d="M170 1059.5L185.2 1059.5" stroke="#1a1a1a" stroke-width="1.1" fill="none" />
<path d="M185.2 1015L183.7 1007L186.7 1007Z" fill="#1a1a1a"/>
<path d="M185.2 1020.9L186.7 1028.9L183.7 1028.9Z" fill="#1a1a1a"/>
<g transform="translate(160.69 1056.3)"><text transform="scale(1.0 1.04)" x="0" y="0" font-size="41.5">4</text></g>
<circle cx="1286.9" cy="591.7" r="36.5" stroke="#1a1a1a" stroke-width="1.0" fill="none"/>
<circle cx="1286.9" cy="591.7" r="35.4" stroke="#1a1a1a" stroke-width="1.0" fill="none"/>
<path d="M1273.42 603.01A17.6 17.6 0 1 1 1300.38 603.01" stroke="#1a1a1a" stroke-width="1.8" fill="none" />
<path d="M1273.4 676V591.5A13.65 13.65 0 0 1 1300.7 591.5V676Z" stroke="#1a1a1a" stroke-width="1.4" fill="#fefefe" />
<path d="M1273.4 634.5L1300.7 634.5" stroke="#1a1a1a" stroke-width="1.2" fill="none" />
<pattern id="t3" x="0" y="676.6" width="10" height="2.1" patternUnits="userSpaceOnUse"><rect width="10" height="2.1" fill="#161616"/><rect y="1.4" width="10" height="0.6" fill="#4d4d4d"/></pattern>
<rect x="1273.6" y="676.6" width="26.1" height="14.5" stroke="#1a1a1a" stroke-width="0" fill="url(#t3)"/>
<path d="M1273.4 676.5L1300.7 676.5" stroke="#1a1a1a" stroke-width="1.2" fill="none" />
<path d="M1327.7 549.3L1253.1 627.8" stroke="#1a1a1a" stroke-width="0.9" fill="none" />
<path d="M1312.31 565.5L1316.73 558.66L1318.91 560.73Z" fill="#1a1a1a"/>
<path d="M1262.02 618.41L1257.6 625.24L1255.43 623.18Z" fill="#1a1a1a"/>
<path d="M1327.7 549.5L1355.6 549.5" stroke="#999" stroke-width="1.6" fill="none" />
<g transform="translate(1280 542.9)"><text transform="scale(1.0 1.04)" x="0 32.28 55.36" y="0" font-size="41.5">Ø60</text></g>
<path d="M1273.5 693.2L1273.5 717.4" stroke="#555" stroke-width="1.2" fill="none" />
<path d="M1299.5 693.2L1299.5 717.4" stroke="#1a1a1a" stroke-width="1.1" fill="none" />
<path d="M1273.8 711.5L1299.3 711.5" stroke="#1a1a1a" stroke-width="1.1" fill="none" />
<path d="M1273.8 711.2L1280.8 709.7L1280.8 712.7Z" fill="#1a1a1a"/>
<path d="M1299.3 711.2L1292.3 712.7L1292.3 709.7Z" fill="#1a1a1a"/>
<g transform="translate(1241.09 752)"><text transform="scale(1.0 1.04)" x="0 55.36 66.89" y="0" font-size="41.5">G/2</text><path transform="translate(32.28 0) scale(0.02026 -0.02026)" d="M763 0H583V1147Q518 1085 412.5 1023T223 930V1104Q374 1175 487 1276T647 1472H763Z" fill="#2b2a29"/></g>
<rect x="1388.5" y="555.5" width="11" height="73" stroke="#1a1a1a" stroke-width="1.2" fill="none"/>
<path d="M1400.1 556.5L1400.1 628.4" stroke="#1a1a1a" stroke-width="2.0" fill="none" />
<pattern id="t4" x="1370.1" y="0" width="2.0" height="10" patternUnits="userSpaceOnUse"><rect width="2.0" height="10" fill="#161616"/><rect x="1.3" width="0.6" height="10" fill="#4d4d4d"/></pattern>
<rect x="1370.1" y="578.4" width="18.6" height="26.6" stroke="#1a1a1a" stroke-width="0" fill="url(#t4)"/>
<path d="M1400.1 578.4H1825.5A56.1 56.1 0 0 1 1881.6 634.5V675.6H1854.6V634.5A29.1 29.1 0 0 0 1825.5 605.4H1400.1" stroke="#1a1a1a" stroke-width="1.2" fill="none" />
<path d="M1825.5 578.4L1825.5 605.4" stroke="#1a1a1a" stroke-width="1.0" fill="none" />
<path d="M1854.6 634.5L1881.6 634.5" stroke="#1a1a1a" stroke-width="1.0" fill="none" />
<path d="M1854.6 634.5L1854.6 675.6" stroke="#1a1a1a" stroke-width="2.0" fill="none" />
<pattern id="t5" x="0" y="676.4" width="10" height="2.1" patternUnits="userSpaceOnUse"><rect width="10" height="2.1" fill="#161616"/><rect y="1.4" width="10" height="0.6" fill="#4d4d4d"/></pattern>
<rect x="1855" y="676.4" width="26.2" height="14.2" stroke="#1a1a1a" stroke-width="0" fill="url(#t5)"/>
<path d="M1376.3 532.5L1471.6 532.5" stroke="#1a1a1a" stroke-width="1.1" fill="none" />
<path d="M1388.5 526.3L1388.5 744.6" stroke="#1a1a1a" stroke-width="1.1" fill="none" />
<path d="M1400.5 526.3L1400.5 555.3" stroke="#1a1a1a" stroke-width="1.1" fill="none" />
<path d="M1388.7 532.5L1382.2 533.9L1382.2 531.1Z" fill="#1a1a1a"/>
<path d="M1400.1 532.5L1406.6 531.1L1406.6 533.9Z" fill="#1a1a1a"/>
<g transform="translate(1410.26 526.3)"><text transform="scale(1.0 1.04)" x="23.08" y="0" font-size="41.5">0</text><path transform="translate(0 0) scale(0.02026 -0.02026)" d="M763 0H583V1147Q518 1085 412.5 1023T223 930V1104Q374 1175 487 1276T647 1472H763Z" fill="#2b2a29"/></g>
<path d="M1617.5 578.4L1617.5 651.2" stroke="#1a1a1a" stroke-width="1.1" fill="none" />
<path d="M1553.3 651.5L1617.1 651.5" stroke="#1a1a1a" stroke-width="1.1" fill="none" />
<path d="M1617.1 578.4L1618.5 584.9L1615.7 584.9Z" fill="#1a1a1a"/>
<path d="M1617.1 605.4L1615.7 598.9L1618.5 598.9Z" fill="#1a1a1a"/>
<g transform="translate(1533.61 642.3)"><text transform="scale(1.0 1.04)" x="0 32.28 55.36" y="0" font-size="41.5">Ø22</text></g>
<path d="M1388.7 711.5L1867.4 711.5" stroke="#1a1a1a" stroke-width="1.1" fill="none" />
<path d="M1867.5 690.6L1867.5 717.4" stroke="#1a1a1a" stroke-width="1.1" fill="none" />
<path d="M1388.7 711.1L1395.7 709.6L1395.7 712.6Z" fill="#1a1a1a"/>
<path d="M1867.4 711.1L1860.4 712.6L1860.4 709.6Z" fill="#1a1a1a"/>
<g transform="translate(1574.05 705.8)"><text transform="scale(1.0 1.04)" x="0 23.08 46.16" y="0" font-size="41.5">395</text></g>
<path d="M1388.7 738.5L1881.8 738.5" stroke="#1a1a1a" stroke-width="1.1" fill="none" />
<path d="M1881.5 634.5L1881.5 744.6" stroke="#1a1a1a" stroke-width="1.1" fill="none" />
<path d="M1388.7 738.4L1395.7 736.9L1395.7 739.9Z" fill="#1a1a1a"/>
<path d="M1881.8 738.4L1874.8 739.9L1874.8 736.9Z" fill="#1a1a1a"/>
<g transform="translate(1597.97 769.7)"><text transform="scale(1.0 1.04)" x="0 23.08 46.16" y="0" font-size="41.5">405</text></g>
<rect x="1388.5" y="766.5" width="11" height="73" stroke="#1a1a1a" stroke-width="1.2" fill="none"/>
<path d="M1400 767.3L1400 839.4" stroke="#1a1a1a" stroke-width="2.0" fill="none" />
<pattern id="t6" x="1370.4" y="0" width="2.0" height="10" patternUnits="userSpaceOnUse"><rect width="2.0" height="10" fill="#161616"/><rect x="1.3" width="0.6" height="10" fill="#4d4d4d"/></pattern>
<rect x="1370.4" y="789.7" width="17.8" height="25.9" stroke="#1a1a1a" stroke-width="0" fill="url(#t6)"/>
<path d="M1400 789.5H1867.9A13.25 13.25 0 0 1 1867.9 816H1400" stroke="#1a1a1a" stroke-width="1.2" fill="none" />
<path d="M1825.5 789.5L1825.5 816" stroke="#1a1a1a" stroke-width="1.0" fill="none" />
<path d="M1349.3 789.5L1366.7 789.5" stroke="#1a1a1a" stroke-width="1.1" fill="none" />
<path d="M1349.3 815.5L1368.8 815.5" stroke="#1a1a1a" stroke-width="1.1" fill="none" />
<path d="M1356.5 789.7L1356.5 851.4" stroke="#1a1a1a" stroke-width="1.1" fill="none" />
<path d="M1258.2 851.5L1356.4 851.5" stroke="#1a1a1a" stroke-width="1.1" fill="none" />
<path d="M1356.4 789.7L1357.8 796.2L1355 796.2Z" fill="#1a1a1a"/>
<path d="M1356.4 815.6L1355 809.1L1357.8 809.1Z" fill="#1a1a1a"/>
<g transform="translate(1264.19 847.7)"><text transform="scale(1.0 1.04)" x="0 55.36 66.89" y="0" font-size="41.5">G/2</text><path transform="translate(32.28 0) scale(0.02026 -0.02026)" d="M763 0H583V1147Q518 1085 412.5 1023T223 930V1104Q374 1175 487 1276T647 1472H763Z" fill="#2b2a29"/></g>
<path d="M1370.5 819.3L1370.5 878.7" stroke="#1a1a1a" stroke-width="1.1" fill="none" />
<path d="M1881.5 808L1881.5 879" stroke="#1a1a1a" stroke-width="1.1" fill="none" />
<path d="M1370.6 872.5L1881.4 872.5" stroke="#1a1a1a" stroke-width="1.1" fill="none" />
<path d="M1370.6 872.6L1377.6 871.1L1377.6 874.1Z" fill="#1a1a1a"/>
<path d="M1881.4 872.6L1874.4 874.1L1874.4 871.1Z" fill="#1a1a1a"/>
<g transform="translate(1593.56 868.5)"><text transform="scale(1.0 1.04)" x="0 23.08 46.16" y="0" font-size="41.5">420</text></g>
<circle cx="270.9" cy="1458.4" r="47.7" stroke="#1a1a1a" stroke-width="1.0" fill="none"/>
<circle cx="270.9" cy="1458.4" r="46.3" stroke="#1a1a1a" stroke-width="1.0" fill="none"/>
<circle cx="270.9" cy="1458.4" r="25.9" stroke="#1a1a1a" stroke-width="1.4" fill="none"/>
<path d="M257.5 1439L257.5 1479" stroke="#1a1a1a" stroke-width="1.0" fill="none" />
<path d="M284.5 1439L284.5 1479" stroke="#1a1a1a" stroke-width="1.0" fill="none" />
<path d="M254.3 1479V1486.3H287.5V1479" stroke="#1a1a1a" stroke-width="1.1" fill="none" />
<path d="M254.3 1479.5L257.1 1479.5" stroke="#1a1a1a" stroke-width="1.0" fill="none" />
<path d="M284.5 1479.5L287.5 1479.5" stroke="#1a1a1a" stroke-width="1.0" fill="none" />
<pattern id="t7" x="254.2" y="1487.2" width="40" height="3.2" patternUnits="userSpaceOnUse"><rect width="40" height="3.2" fill="#222"/><path d="M0 1.76L40 3.04" stroke="#8a8a8a" stroke-width="0.9"/></pattern>
<rect x="254.2" y="1487.2" width="33.5" height="19.2" stroke="#1a1a1a" stroke-width="0" fill="url(#t7)"/>
<path d="M232.9 1408L309.7 1509.2" stroke="#1a1a1a" stroke-width="0.9" fill="none" />
<path d="M242.22 1420.28L236.19 1414.82L238.58 1413Z" fill="#1a1a1a"/>
<path d="M299.89 1496.28L305.92 1501.74L303.53 1503.56Z" fill="#1a1a1a"/>
<path d="M164.9 1408.5L232.9 1408.5" stroke="#888" stroke-width="1.5" fill="none" />
<g transform="translate(167.7 1398.1)"><text transform="scale(1.0 1.04)" x="0 32.28 55.36" y="0" font-size="41.5">Ø60</text></g>
<path d="M254.5 1510.5L254.5 1531" stroke="#1a1a1a" stroke-width="1.1" fill="none" />
<path d="M287.5 1510.5L287.5 1531" stroke="#1a1a1a" stroke-width="1.1" fill="none" />
<path d="M254.3 1523.5L287.5 1523.5" stroke="#1a1a1a" stroke-width="1.1" fill="none" />
<path d="M254.3 1523L261.3 1521.6L261.3 1524.4Z" fill="#bbb" stroke="#333" stroke-width="0.8"/>
<path d="M287.5 1523L280.5 1524.4L280.5 1521.6Z" fill="#bbb" stroke="#333" stroke-width="0.8"/>
<path d="M254.5 1571L254.5 1590.6" stroke="#1a1a1a" stroke-width="1.1" fill="none" />
<path d="M287.5 1571L287.5 1590.6" stroke="#1a1a1a" stroke-width="1.1" fill="none" />
<path d="M254.3 1579.5L287.5 1579.5" stroke="#1a1a1a" stroke-width="1.1" fill="none" />
<path d="M254.3 1579.4L261.3 1578L261.3 1580.8Z" fill="#bbb" stroke="#333" stroke-width="0.8"/>
<path d="M287.5 1579.4L280.5 1580.8L280.5 1578Z" fill="#bbb" stroke="#333" stroke-width="0.8"/>
<g transform="translate(219.14 1564.5)"><text transform="scale(1.0 1.04)" x="0 55.36 66.89" y="0" font-size="41.5">G/2</text><path transform="translate(32.28 0) scale(0.02026 -0.02026)" d="M763 0H583V1147Q518 1085 412.5 1023T223 930V1104Q374 1175 487 1276T647 1472H763Z" fill="#2b2a29"/></g>
<path d="M371.5 1388.1L371.5 1603.6" stroke="#1a1a1a" stroke-width="1.3" fill="none" />
<rect x="371.5" y="1410.5" width="14" height="95" stroke="#1a1a1a" stroke-width="1.1" fill="none"/>
<path d="M387.5 1388.1L387.5 1410.8" stroke="#1a1a1a" stroke-width="1.1" fill="none" />
<rect x="385.5" y="1411.5" width="2" height="94" stroke="#1a1a1a" stroke-width="0.9" fill="none"/>
<pattern id="t8" x="349.1" y="1441.2" width="3.3" height="40" patternUnits="userSpaceOnUse"><rect width="3.3" height="40" fill="#222"/><path d="M1.81 40L3.13 0" stroke="#8a8a8a" stroke-width="0.9"/></pattern>
<rect x="349.1" y="1441.2" width="22.2" height="34.4" stroke="#1a1a1a" stroke-width="0" fill="url(#t8)"/>
<path d="M349.1 1458.5L371.3 1458.5" stroke="#555" stroke-width="0.5" fill="none" />
<path d="M387.6 1433.3H449.3C456 1435.5 460 1443.5 469.2 1443.5C477.5 1443.5 482 1437.3 488.2 1436.4" stroke="#1a1a1a" stroke-width="1.1" fill="none" />
<path d="M451 1433.4C457.5 1436 461 1442 469.2 1442C476.5 1442 480.5 1437.5 486 1436.8" stroke="#1a1a1a" stroke-width="0.9" fill="none" />
<path d="M387.6 1483.2H412C416.5 1479.5 422 1477 428.2 1477C434.5 1477 440 1479.5 444.3 1483.2H449.3C456 1481 460 1472.9 469.2 1472.9C477.5 1472.9 482 1479 488.2 1479.9" stroke="#1a1a1a" stroke-width="1.1" fill="none" />
<path d="M451 1483.2C457.5 1480.5 461 1474.5 469.2 1474.5C476.5 1474.5 480.5 1479 486 1479.6" stroke="#1a1a1a" stroke-width="0.9" fill="none" />
<path d="M488.5 1436L488.5 1603.6" stroke="#1a1a1a" stroke-width="1.1" fill="none" />
<path d="M488.5 1472L488.5 1480" stroke="#1a1a1a" stroke-width="1.6" fill="none" />
<rect x="411.5" y="1483.5" width="33" height="3" stroke="#1a1a1a" stroke-width="1.0" fill="none"/>
<rect x="413.5" y="1486.5" width="29" height="4" stroke="#555" stroke-width="0.9" fill="none"/>
<pattern id="t9" x="411.2" y="1490.3" width="40" height="3.2" patternUnits="userSpaceOnUse"><rect width="40" height="3.2" fill="#222"/><path d="M0 1.76L40 3.04" stroke="#8a8a8a" stroke-width="0.9"/></pattern>
<rect x="411.2" y="1490.3" width="34" height="16.1" stroke="#1a1a1a" stroke-width="0" fill="url(#t9)"/>
<path d="M355 1395.5L420.7 1395.5" stroke="#1a1a1a" stroke-width="1.1" fill="none" />
<path d="M371.6 1395.9L364.6 1397.3L364.6 1394.5Z" fill="#bbb" stroke="#333" stroke-width="0.8"/>
<path d="M387.3 1395.9L394.3 1394.5L394.3 1397.3Z" fill="#bbb" stroke="#333" stroke-width="0.8"/>
<g transform="translate(390.51 1390.3)"><text transform="scale(1.0 1.04)" x="23.08" y="0" font-size="41.5">0</text><path transform="translate(0 0) scale(0.02026 -0.02026)" d="M763 0H583V1147Q518 1085 412.5 1023T223 930V1104Q374 1175 487 1276T647 1472H763Z" fill="#2b2a29"/></g>
<path d="M428.5 1493L428.5 1554.3" stroke="#1a1a1a" stroke-width="1.1" fill="none" />
<path d="M371.6 1548.5L428.5 1548.5" stroke="#1a1a1a" stroke-width="1.1" fill="none" />
<path d="M371.6 1548.7L378.6 1547.3L378.6 1550.1Z" fill="#bbb" stroke="#333" stroke-width="0.8"/>
<path d="M428.5 1548.7L421.5 1550.1L421.5 1547.3Z" fill="#bbb" stroke="#333" stroke-width="0.8"/>
<g transform="translate(376.25 1542.2)"><text transform="scale(1.0 1.04)" x="0 23.08" y="0" font-size="41.5">36</text></g>
<path d="M371.6 1597.5L488.2 1597.5" stroke="#1a1a1a" stroke-width="1.1" fill="none" />
<path d="M371.6 1597.1L378.6 1595.7L378.6 1598.5Z" fill="#bbb" stroke="#333" stroke-width="0.8"/>
<path d="M488.2 1597.1L481.2 1598.5L481.2 1595.7Z" fill="#bbb" stroke="#333" stroke-width="0.8"/>
<g transform="translate(403.63 1592.8)"><text transform="scale(1.0 1.04)" x="0 23.08" y="0" font-size="41.5">74</text></g>
<pattern id="t10" x="254.2" y="1590.8" width="40" height="3.3" patternUnits="userSpaceOnUse"><rect width="40" height="3.3" fill="#222"/><path d="M0 1.81L40 3.13" stroke="#8a8a8a" stroke-width="0.9"/></pattern>
<rect x="254.2" y="1590.8" width="33.5" height="22.7" stroke="#1a1a1a" stroke-width="0" fill="url(#t10)"/>
<path d="M223.4 1613H318.8V1626.8L317.8 1628H224.4L223.4 1626.8Z" stroke="#1a1a1a" stroke-width="1.3" fill="none" />
<path d="M224.4 1629.5L317.8 1629.5" stroke="#777" stroke-width="1.0" fill="none" />
<path d="M245.5 1628L245.5 1729.5" stroke="#1a1a1a" stroke-width="1.2" fill="none" />
<path d="M296.5 1628L296.5 1729.5" stroke="#1a1a1a" stroke-width="1.2" fill="none" />
<path d="M198.8 1590.5L254.2 1590.5" stroke="#777" stroke-width="1.5" fill="none" />
<path d="M198.8 1729.5L257.5 1729.5" stroke="#444" stroke-width="1.5" fill="none" />
<path d="M284.4 1729.5L296.6 1729.5" stroke="#1a1a1a" stroke-width="1.3" fill="none" />
<path d="M206.5 1590.8L206.5 1632.7" stroke="#777" stroke-width="1.5" fill="none" />
<path d="M206.5 1683.5L206.5 1729.5" stroke="#777" stroke-width="1.5" fill="none" />
<path d="M206.8 1590.8L208.5 1598.8L205.1 1598.8Z" fill="#bbb" stroke="#333" stroke-width="0.8"/>
<path d="M206.8 1729.5L205.1 1721.5L208.5 1721.5Z" fill="#bbb" stroke="#333" stroke-width="0.8"/>
<g transform="translate(183.79 1672.7)"><text transform="scale(1.0 1.04)" x="0 23.08" y="0" font-size="41.5">88</text></g>
<path d="M245.5 1665.5L425.4 1665.5" stroke="#1a1a1a" stroke-width="1.1" fill="none" />
<path d="M245.5 1665.4L245.5 1674" stroke="#1a1a1a" stroke-width="1.8" fill="none" />
<path d="M296.6 1665.4L296.6 1674" stroke="#1a1a1a" stroke-width="1.8" fill="none" />
<path d="M245.5 1665.4L253.5 1663.9L253.5 1666.9Z" fill="#bbb" stroke="#333" stroke-width="0.8"/>
<path d="M296.6 1665.4L288.6 1666.9L288.6 1663.9Z" fill="#1a1a1a"/>
<g transform="translate(347.56 1700.1)"><text transform="scale(1.0 1.04)" x="0 32.28 55.36" y="0" font-size="41.5">Ø32</text></g>
<path d="M257.5 1729.5V1725.8L251.57 1720.01A21 21 0 1 1 290.23 1720.01L284.3 1725.8V1729.5" stroke="#1a1a1a" stroke-width="1.1" fill="none" />
<path d="M253.13 1719.34A19.3 19.3 0 1 1 288.67 1719.34" stroke="#777" stroke-width="0.7" fill="none" />
<path d="M257.9 1729V1722.4L255.22 1719.11A17.3 17.3 0 1 1 286.58 1719.11L283.9 1722.4V1729" stroke="#1a1a1a" stroke-width="2.0" fill="none" stroke-linejoin="round"/>
<g transform="translate(724.99 1375.9)"><text transform="scale(1.0 1.04)" x="0 55.36 66.89" y="0" font-size="41.5">G/2</text><path transform="translate(32.28 0) scale(0.02026 -0.02026)" d="M763 0H583V1147Q518 1085 412.5 1023T223 930V1104Q374 1175 487 1276T647 1472H763Z" fill="#2b2a29"/></g>
<path d="M754.5 1383L754.5 1401" stroke="#1a1a1a" stroke-width="1.1" fill="none" />
<path d="M788.5 1383L788.5 1401" stroke="#1a1a1a" stroke-width="1.1" fill="none" />
<path d="M754.4 1385.5L788.5 1385.5" stroke="#1a1a1a" stroke-width="1.1" fill="none" />
<path d="M754.4 1385.6L762.4 1384.1L762.4 1387.1Z" fill="#1a1a1a"/>
<path d="M788.5 1385.6L780.5 1387.1L780.5 1384.1Z" fill="#1a1a1a"/>
<path d="M754.4 1402L788.5 1402L786.1 1455.5L756.8 1455.5Z" stroke="#1a1a1a" stroke-width="1.1" fill="none" stroke-linejoin="round"/>
<path d="M759.5 1455.5L759.5 1512.3" stroke="#808080" stroke-width="1.6" fill="none" />
<path d="M783.5 1455.5L783.5 1512.8" stroke="#808080" stroke-width="1.6" fill="none" />
<path d="M759.5 1518.6L759.5 1600.1" stroke="#808080" stroke-width="1.6" fill="none" />
<path d="M783.5 1519L783.5 1600.1" stroke="#808080" stroke-width="1.6" fill="none" />
<path d="M759.2 1511.8C762 1514 765.5 1514.2 769.5 1511.8C771.5 1510.6 773 1511.4 774.5 1509.2C777 1510.5 779.5 1515.2 783.7 1513.2" stroke="#222" stroke-width="1.0" fill="none" />
<path d="M759.2 1518C762 1520.2 765.5 1520.4 769.5 1518C771.5 1516.8 773 1517.6 774.5 1515.4C777 1516.7 779.5 1521.4 783.7 1519.4" stroke="#222" stroke-width="1.0" fill="none" />
<path d="M756.8 1600.1L786.1 1600.1L788.5 1653.2L754.4 1653.2Z" stroke="#1a1a1a" stroke-width="1.1" fill="none" stroke-linejoin="round"/>
<path d="M771.5 1394.5L771.5 1658.4" stroke="#333" stroke-width="0.8" fill="none" stroke-dasharray="9 1.5 2 1.5"/>
<path d="M790.7 1402.5L805.3 1402.5" stroke="#1a1a1a" stroke-width="1.1" fill="none" />
<path d="M790.7 1653.5L805.3 1653.5" stroke="#1a1a1a" stroke-width="1.1" fill="none" />
<path d="M802.5 1402L802.5 1653.2" stroke="#555" stroke-width="1.3" fill="none" />
<path d="M802.9 1402L804.5 1410L801.3 1410Z" fill="#1a1a1a"/>
<path d="M802.9 1653.2L801.3 1645.2L804.5 1645.2Z" fill="#1a1a1a"/>
<g transform="translate(837.9 1573.67) rotate(-90)"><text transform="scale(1.0 1.04)" x="23.08 46.16 69.24" y="0" font-size="41.5">500</text><path transform="translate(0 0) scale(0.02026 -0.02026)" d="M763 0H583V1147Q518 1085 412.5 1023T223 930V1104Q374 1175 487 1276T647 1472H763Z" fill="#2b2a29"/></g>
<path d="M754.5 1655L754.5 1671.4" stroke="#1a1a1a" stroke-width="1.1" fill="none" />
<path d="M788.5 1655L788.5 1671.4" stroke="#1a1a1a" stroke-width="1.1" fill="none" />
<path d="M754.4 1668.5L788.5 1668.5" stroke="#1a1a1a" stroke-width="1.1" fill="none" />
<path d="M754.4 1668.6L762.4 1667.1L762.4 1670.1Z" fill="#1a1a1a"/>
<path d="M788.5 1668.6L780.5 1670.1L780.5 1667.1Z" fill="#1a1a1a"/>
<g transform="translate(724.99 1709.1)"><text transform="scale(1.0 1.04)" x="0 55.36 66.89" y="0" font-size="41.5">G/2</text><path transform="translate(32.28 0) scale(0.02026 -0.02026)" d="M763 0H583V1147Q518 1085 412.5 1023T223 930V1104Q374 1175 487 1276T647 1472H763Z" fill="#2b2a29"/></g>
<g transform="translate(952.01 1354.5)"><text transform="scale(1.0 1.04)" x="0 32.28 55.36" y="0" font-size="41.5">Ø26</text></g>
<path d="M976.5 1361.4L976.5 1381.5" stroke="#1a1a1a" stroke-width="1.1" fill="none" />
<path d="M1014.5 1361.4L1014.5 1381.5" stroke="#1a1a1a" stroke-width="1.1" fill="none" />
<path d="M976.3 1362.5L1014.9 1362.5" stroke="#1a1a1a" stroke-width="1.1" fill="none" />
<path d="M976.3 1362.9L981.8 1361.7L981.8 1364.1Z" fill="#1a1a1a"/>
<path d="M1014.9 1362.9L1009.4 1364.1L1009.4 1361.7Z" fill="#1a1a1a"/>
<path d="M976.5 1380.6L976.5 1698.3" stroke="#1a1a1a" stroke-width="1.4" fill="none" />
<path d="M1014.5 1380.6L1014.5 1698.3" stroke="#1a1a1a" stroke-width="1.4" fill="none" />
<path d="M976.3 1381.5L1014.9 1381.5" stroke="#1a1a1a" stroke-width="1.4" fill="none" />
<path d="M976.3 1383.5L1014.9 1383.5" stroke="#1a1a1a" stroke-width="1.2" fill="none" />
<path d="M975.6 1698.3L1015.6 1698.3" stroke="#1a1a1a" stroke-width="1.8" fill="none" />
<circle cx="983.4" cy="1397.7" r="2.3" fill="#222"/>
<circle cx="983.9" cy="1397.4" r="0.7" fill="#777"/>
<circle cx="983.4" cy="1405.68" r="2.3" fill="#222"/>
<circle cx="983.9" cy="1405.38" r="0.7" fill="#777"/>
<circle cx="983.4" cy="1413.66" r="2.3" fill="#222"/>
<circle cx="983.9" cy="1413.36" r="0.7" fill="#777"/>
<circle cx="983.4" cy="1421.64" r="2.3" fill="#222"/>
<circle cx="983.9" cy="1421.34" r="0.7" fill="#777"/>
<circle cx="983.4" cy="1429.62" r="2.3" fill="#222"/>
<circle cx="983.9" cy="1429.32" r="0.7" fill="#777"/>
<circle cx="983.4" cy="1437.6" r="2.3" fill="#222"/>
<circle cx="983.9" cy="1437.3" r="0.7" fill="#777"/>
<circle cx="983.4" cy="1445.58" r="2.3" fill="#222"/>
<circle cx="983.9" cy="1445.28" r="0.7" fill="#777"/>
<circle cx="983.4" cy="1453.56" r="2.3" fill="#222"/>
<circle cx="983.9" cy="1453.26" r="0.7" fill="#777"/>
<circle cx="983.4" cy="1461.54" r="2.3" fill="#222"/>
<circle cx="983.9" cy="1461.24" r="0.7" fill="#777"/>
<circle cx="983.4" cy="1469.52" r="2.3" fill="#222"/>
<circle cx="983.9" cy="1469.22" r="0.7" fill="#777"/>
<circle cx="983.4" cy="1477.5" r="2.3" fill="#222"/>
<circle cx="983.9" cy="1477.2" r="0.7" fill="#777"/>
<circle cx="983.4" cy="1485.48" r="2.3" fill="#222"/>
<circle cx="983.9" cy="1485.18" r="0.7" fill="#777"/>
<circle cx="991.4" cy="1397.7" r="2.3" fill="#222"/>
<circle cx="991.9" cy="1397.4" r="0.7" fill="#777"/>
<circle cx="991.4" cy="1405.68" r="2.3" fill="#222"/>
<circle cx="991.9" cy="1405.38" r="0.7" fill="#777"/>
<circle cx="991.4" cy="1413.66" r="2.3" fill="#222"/>
<circle cx="991.9" cy="1413.36" r="0.7" fill="#777"/>
<circle cx="991.4" cy="1421.64" r="2.3" fill="#222"/>
<circle cx="991.9" cy="1421.34" r="0.7" fill="#777"/>
<circle cx="991.4" cy="1429.62" r="2.3" fill="#222"/>
<circle cx="991.9" cy="1429.32" r="0.7" fill="#777"/>
<circle cx="991.4" cy="1437.6" r="2.3" fill="#222"/>
<circle cx="991.9" cy="1437.3" r="0.7" fill="#777"/>
<circle cx="991.4" cy="1445.58" r="2.3" fill="#222"/>
<circle cx="991.9" cy="1445.28" r="0.7" fill="#777"/>
<circle cx="991.4" cy="1453.56" r="2.3" fill="#222"/>
<circle cx="991.9" cy="1453.26" r="0.7" fill="#777"/>
<circle cx="991.4" cy="1461.54" r="2.3" fill="#222"/>
<circle cx="991.9" cy="1461.24" r="0.7" fill="#777"/>
<circle cx="991.4" cy="1469.52" r="2.3" fill="#222"/>
<circle cx="991.9" cy="1469.22" r="0.7" fill="#777"/>
<circle cx="991.4" cy="1477.5" r="2.3" fill="#222"/>
<circle cx="991.9" cy="1477.2" r="0.7" fill="#777"/>
<circle cx="991.4" cy="1485.48" r="2.3" fill="#222"/>
<circle cx="991.9" cy="1485.18" r="0.7" fill="#777"/>
<circle cx="999.4" cy="1397.7" r="2.3" fill="#222"/>
<circle cx="999.9" cy="1397.4" r="0.7" fill="#777"/>
<circle cx="999.4" cy="1405.68" r="2.3" fill="#222"/>
<circle cx="999.9" cy="1405.38" r="0.7" fill="#777"/>
<circle cx="999.4" cy="1413.66" r="2.3" fill="#222"/>
<circle cx="999.9" cy="1413.36" r="0.7" fill="#777"/>
<circle cx="999.4" cy="1421.64" r="2.3" fill="#222"/>
<circle cx="999.9" cy="1421.34" r="0.7" fill="#777"/>
<circle cx="999.4" cy="1429.62" r="2.3" fill="#222"/>
<circle cx="999.9" cy="1429.32" r="0.7" fill="#777"/>
<circle cx="999.4" cy="1437.6" r="2.3" fill="#222"/>
<circle cx="999.9" cy="1437.3" r="0.7" fill="#777"/>
<circle cx="999.4" cy="1445.58" r="2.3" fill="#222"/>
<circle cx="999.9" cy="1445.28" r="0.7" fill="#777"/>
<circle cx="999.4" cy="1453.56" r="2.3" fill="#222"/>
<circle cx="999.9" cy="1453.26" r="0.7" fill="#777"/>
<circle cx="999.4" cy="1461.54" r="2.3" fill="#222"/>
<circle cx="999.9" cy="1461.24" r="0.7" fill="#777"/>
<circle cx="999.4" cy="1469.52" r="2.3" fill="#222"/>
<circle cx="999.9" cy="1469.22" r="0.7" fill="#777"/>
<circle cx="999.4" cy="1477.5" r="2.3" fill="#222"/>
<circle cx="999.9" cy="1477.2" r="0.7" fill="#777"/>
<circle cx="999.4" cy="1485.48" r="2.3" fill="#222"/>
<circle cx="999.9" cy="1485.18" r="0.7" fill="#777"/>
<circle cx="1007.4" cy="1397.7" r="2.3" fill="#222"/>
<circle cx="1007.9" cy="1397.4" r="0.7" fill="#777"/>
<circle cx="1007.4" cy="1405.68" r="2.3" fill="#222"/>
<circle cx="1007.9" cy="1405.38" r="0.7" fill="#777"/>
<circle cx="1007.4" cy="1413.66" r="2.3" fill="#222"/>
<circle cx="1007.9" cy="1413.36" r="0.7" fill="#777"/>
<circle cx="1007.4" cy="1421.64" r="2.3" fill="#222"/>
<circle cx="1007.9" cy="1421.34" r="0.7" fill="#777"/>
<circle cx="1007.4" cy="1429.62" r="2.3" fill="#222"/>
<circle cx="1007.9" cy="1429.32" r="0.7" fill="#777"/>
<circle cx="1007.4" cy="1437.6" r="2.3" fill="#222"/>
<circle cx="1007.9" cy="1437.3" r="0.7" fill="#777"/>
<circle cx="1007.4" cy="1445.58" r="2.3" fill="#222"/>
<circle cx="1007.9" cy="1445.28" r="0.7" fill="#777"/>
<circle cx="1007.4" cy="1453.56" r="2.3" fill="#222"/>
<circle cx="1007.9" cy="1453.26" r="0.7" fill="#777"/>
<circle cx="1007.4" cy="1461.54" r="2.3" fill="#222"/>
<circle cx="1007.9" cy="1461.24" r="0.7" fill="#777"/>
<circle cx="1007.4" cy="1469.52" r="2.3" fill="#222"/>
<circle cx="1007.9" cy="1469.22" r="0.7" fill="#777"/>
<circle cx="1007.4" cy="1477.5" r="2.3" fill="#222"/>
<circle cx="1007.9" cy="1477.2" r="0.7" fill="#777"/>
<circle cx="1007.4" cy="1485.48" r="2.3" fill="#222"/>
<circle cx="1007.9" cy="1485.18" r="0.7" fill="#777"/>
<path d="M980.5 1698.5L1010.5 1698.5" stroke="#1a1a1a" stroke-width="1.0" fill="none" />
<pattern id="t11" x="0" y="1700" width="10" height="2.0" patternUnits="userSpaceOnUse"><rect width="10" height="2.0" fill="#161616"/><rect y="1.3" width="10" height="0.6" fill="#4d4d4d"/></pattern>
<rect x="979.5" y="1700" width="32" height="13.2" stroke="#1a1a1a" stroke-width="0" fill="url(#t11)"/>
<path d="M995.5 1700L995.5 1713.2" stroke="#666" stroke-width="0.5" fill="none" />
<path d="M949.1 1380.5L976.3 1380.5" stroke="#1a1a1a" stroke-width="1.1" fill="none" />
<path d="M949.1 1713.5L979.5 1713.5" stroke="#1a1a1a" stroke-width="1.1" fill="none" />
<path d="M950.5 1380.6L950.5 1713.2" stroke="#1a1a1a" stroke-width="1.1" fill="none" />
<path d="M950 1380.6L951.2 1386.1L948.8 1386.1Z" fill="#1a1a1a"/>
<path d="M950 1713.2L948.8 1707.7L951.2 1707.7Z" fill="#1a1a1a"/>
<g transform="translate(943.7 1578.1) rotate(-90)"><text transform="scale(1.0 1.04)" x="0 23.08 46.16" y="0" font-size="41.5">225</text></g>
<path d="M979.5 1713.7L979.5 1731.8" stroke="#555" stroke-width="1.2" fill="none" />
<path d="M1011.5 1713.7L1011.5 1731.8" stroke="#555" stroke-width="1.2" fill="none" />
<path d="M979.5 1730.5L1011.2 1730.5" stroke="#1a1a1a" stroke-width="1.1" fill="none" />
<path d="M979.5 1730.5L985 1729.3L985 1731.7Z" fill="#1a1a1a"/>
<path d="M1011.2 1730.5L1005.7 1731.7L1005.7 1729.3Z" fill="#1a1a1a"/>
<g transform="translate(949.34 1769.6)"><text transform="scale(1.0 1.04)" x="0 55.36 66.89" y="0" font-size="41.5">G/2</text><path transform="translate(32.28 0) scale(0.02026 -0.02026)" d="M763 0H583V1147Q518 1085 412.5 1023T223 930V1104Q374 1175 487 1276T647 1472H763Z" fill="#2b2a29"/></g>
<g transform="translate(1602.39 1220.3)"><text transform="scale(1.0 1.04)" x="0 55.36 66.89" y="0" font-size="41.5">G/2</text><path transform="translate(32.28 0) scale(0.02026 -0.02026)" d="M763 0H583V1147Q518 1085 412.5 1023T223 930V1104Q374 1175 487 1276T647 1472H763Z" fill="#2b2a29"/></g>
<path d="M1568.6 1226.5L1656.6 1226.5" stroke="#1a1a1a" stroke-width="1.1" fill="none" />
<path d="M1568.5 1219L1568.5 1234.6" stroke="#1a1a1a" stroke-width="1.1" fill="none" />
<path d="M1599.5 1219L1599.5 1234.6" stroke="#1a1a1a" stroke-width="1.1" fill="none" />
<path d="M1568.6 1226L1575.6 1224.6L1575.6 1227.4Z" fill="#1a1a1a"/>
<path d="M1599 1226L1592 1227.4L1592 1224.6Z" fill="#1a1a1a"/>
<rect x="1568.5" y="1233.5" width="31" height="17" stroke="#1a1a1a" stroke-width="1.3" fill="none"/>
<path d="M1568.6 1237.5L1599 1237.5" stroke="#777" stroke-width="0.8" fill="none" />
<path d="M1569.5 1250L1571.3 1252.5V1256.5L1570 1258.8M1598.1 1250L1596.3 1252.5V1256.5L1597.6 1258.8" stroke="#1a1a1a" stroke-width="1.0" fill="none" />
<path d="M1571.3 1252.5L1596.3 1252.5" stroke="#1a1a1a" stroke-width="0.9" fill="none" />
<path d="M1571.3 1256.5L1596.3 1256.5" stroke="#1a1a1a" stroke-width="0.9" fill="none" />
<path d="M1564 1291.7V1260Q1564 1258.8 1565.2 1258.8H1602.4Q1603.6 1258.8 1603.6 1260V1291.7" stroke="#1a1a1a" stroke-width="1.3" fill="none" />
<path d="M1565.5 1262L1565.5 1291.7" stroke="#777" stroke-width="0.7" fill="none" />
<path d="M1602.5 1262L1602.5 1291.7" stroke="#777" stroke-width="0.7" fill="none" />
<path d="M1384.4 1291.5H1783.2Q1784.5 1291.5 1784.5 1292.8V1301.2Q1784.5 1302.5 1783.2 1302.5H1384.4Q1383.1 1302.5 1383.1 1301.2V1292.8Q1383.1 1291.5 1384.4 1291.5Z" stroke="#1a1a1a" stroke-width="1.4" fill="none" />
<path d="M1384.5 1300.5L1783.5 1300.5" stroke="#999" stroke-width="1.4" fill="none" />
<path d="M1384.5 1293.5L1783.5 1293.5" stroke="#999" stroke-width="1.4" fill="none" />
<rect x="1436.5" y="1303.5" width="9" height="3" stroke="#222" stroke-width="1.0" fill="none"/>
<path d="M1441.5 1303L1441.5 1306" stroke="#333" stroke-width="0.9" fill="none" />
<rect x="1448.5" y="1303.5" width="13" height="3" stroke="#222" stroke-width="1.0" fill="none"/>
<path d="M1455.5 1303L1455.5 1306" stroke="#333" stroke-width="0.9" fill="none" />
<rect x="1463.5" y="1303.5" width="99" height="3" stroke="#222" stroke-width="1.0" fill="none"/>
<path d="M1468.5 1303L1468.5 1306" stroke="#333" stroke-width="0.9" fill="none" />
<path d="M1473.5 1303L1473.5 1306" stroke="#333" stroke-width="0.9" fill="none" />
<path d="M1479.5 1303L1479.5 1306" stroke="#333" stroke-width="0.9" fill="none" />
<path d="M1484.5 1303L1484.5 1306" stroke="#333" stroke-width="0.9" fill="none" />
<path d="M1489.5 1303L1489.5 1306" stroke="#333" stroke-width="0.9" fill="none" />
<path d="M1494.5 1303L1494.5 1306" stroke="#333" stroke-width="0.9" fill="none" />
<path d="M1499.5 1303L1499.5 1306" stroke="#333" stroke-width="0.9" fill="none" />
<path d="M1505.5 1303L1505.5 1306" stroke="#333" stroke-width="0.9" fill="none" />
<path d="M1510.5 1303L1510.5 1306" stroke="#333" stroke-width="0.9" fill="none" />
<path d="M1515.5 1303L1515.5 1306" stroke="#333" stroke-width="0.9" fill="none" />
<path d="M1520.5 1303L1520.5 1306" stroke="#333" stroke-width="0.9" fill="none" />
<path d="M1525.5 1303L1525.5 1306" stroke="#333" stroke-width="0.9" fill="none" />
<path d="M1531.5 1303L1531.5 1306" stroke="#333" stroke-width="0.9" fill="none" />
<path d="M1536.5 1303L1536.5 1306" stroke="#333" stroke-width="0.9" fill="none" />
<path d="M1541.5 1303L1541.5 1306" stroke="#333" stroke-width="0.9" fill="none" />
<path d="M1546.5 1303L1546.5 1306" stroke="#333" stroke-width="0.9" fill="none" />
<path d="M1551.5 1303L1551.5 1306" stroke="#333" stroke-width="0.9" fill="none" />
<path d="M1557.5 1303L1557.5 1306" stroke="#333" stroke-width="0.9" fill="none" />
<rect x="1564.5" y="1303.5" width="15" height="3" stroke="#222" stroke-width="1.0" fill="none"/>
<path d="M1569.5 1303L1569.5 1306" stroke="#333" stroke-width="0.9" fill="none" />
<path d="M1574.5 1303L1574.5 1306" stroke="#333" stroke-width="0.9" fill="none" />
<rect x="1580.5" y="1303.5" width="6" height="3" stroke="#222" stroke-width="1.0" fill="none"/>
<rect x="1588.5" y="1303.5" width="63" height="3" stroke="#222" stroke-width="1.0" fill="none"/>
<path d="M1593.5 1303L1593.5 1306" stroke="#333" stroke-width="0.9" fill="none" />
<path d="M1599.5 1303L1599.5 1306" stroke="#333" stroke-width="0.9" fill="none" />
<path d="M1604.5 1303L1604.5 1306" stroke="#333" stroke-width="0.9" fill="none" />
<path d="M1609.5 1303L1609.5 1306" stroke="#333" stroke-width="0.9" fill="none" />
<path d="M1614.5 1303L1614.5 1306" stroke="#333" stroke-width="0.9" fill="none" />
<path d="M1620.5 1303L1620.5 1306" stroke="#333" stroke-width="0.9" fill="none" />
<path d="M1625.5 1303L1625.5 1306" stroke="#333" stroke-width="0.9" fill="none" />
<path d="M1630.5 1303L1630.5 1306" stroke="#333" stroke-width="0.9" fill="none" />
<path d="M1635.5 1303L1635.5 1306" stroke="#333" stroke-width="0.9" fill="none" />
<path d="M1641.5 1303L1641.5 1306" stroke="#333" stroke-width="0.9" fill="none" />
<path d="M1646.5 1303L1646.5 1306" stroke="#333" stroke-width="0.9" fill="none" />
<rect x="1653.5" y="1303.5" width="50" height="3" stroke="#222" stroke-width="1.0" fill="none"/>
<path d="M1658.5 1303L1658.5 1306" stroke="#333" stroke-width="0.9" fill="none" />
<path d="M1663.5 1303L1663.5 1306" stroke="#333" stroke-width="0.9" fill="none" />
<path d="M1668.5 1303L1668.5 1306" stroke="#333" stroke-width="0.9" fill="none" />
<path d="M1673.5 1303L1673.5 1306" stroke="#333" stroke-width="0.9" fill="none" />
<path d="M1678.5 1303L1678.5 1306" stroke="#333" stroke-width="0.9" fill="none" />
<path d="M1683.5 1303L1683.5 1306" stroke="#333" stroke-width="0.9" fill="none" />
<path d="M1688.5 1303L1688.5 1306" stroke="#333" stroke-width="0.9" fill="none" />
<path d="M1693.5 1303L1693.5 1306" stroke="#333" stroke-width="0.9" fill="none" />
<path d="M1698.5 1303L1698.5 1306" stroke="#333" stroke-width="0.9" fill="none" />
<rect x="1706.5" y="1303.5" width="13" height="3" stroke="#222" stroke-width="1.0" fill="none"/>
<path d="M1712.5 1303L1712.5 1306" stroke="#333" stroke-width="0.9" fill="none" />
<rect x="1722.5" y="1303.5" width="9" height="3" stroke="#222" stroke-width="1.0" fill="none"/>
<path d="M1727.5 1303L1727.5 1306" stroke="#333" stroke-width="0.9" fill="none" />
<path d="M1320.4 1233.5L1568.6 1233.5" stroke="#1a1a1a" stroke-width="1.1" fill="none" />
<path d="M1320.4 1302.5L1400.4 1302.5" stroke="#1a1a1a" stroke-width="1.1" fill="none" />
<path d="M1327.5 1233.3L1327.5 1250.8" stroke="#1a1a1a" stroke-width="1.1" fill="none" />
<path d="M1327.5 1283L1327.5 1302.5" stroke="#1a1a1a" stroke-width="1.1" fill="none" />
<path d="M1327.7 1233.3L1329.2 1241.3L1326.2 1241.3Z" fill="#1a1a1a"/>
<path d="M1327.7 1302.5L1326.2 1294.5L1329.2 1294.5Z" fill="#1a1a1a"/>
<g transform="translate(1305.4 1280.4)"><text transform="scale(1.0 1.04)" x="0 23.08" y="0" font-size="41.5">52</text></g>
<path d="M1369.4 1291.5L1400.4 1291.5" stroke="#1a1a1a" stroke-width="1.1" fill="none" />
<path d="M1376.5 1277.7L1376.5 1349" stroke="#1a1a1a" stroke-width="1.1" fill="none" />
<path d="M1347.9 1349.5L1376.1 1349.5" stroke="#1a1a1a" stroke-width="1.1" fill="none" />
<path d="M1376.1 1291.5L1374.5 1284.5L1377.7 1284.5Z" fill="#1a1a1a"/>
<path d="M1376.1 1302.5L1377.7 1309.5L1374.5 1309.5Z" fill="#1a1a1a"/>
<g transform="translate(1349.58 1343.6)"><text transform="scale(1.0 1.04)" x="0" y="0" font-size="41.5">8</text></g>
<circle cx="1583.9" cy="1592.1" r="200.6" stroke="#1a1a1a" stroke-width="1.1" fill="none"/>
<circle cx="1583.9" cy="1592.1" r="199.2" stroke="#1a1a1a" stroke-width="1.0" fill="none"/>
<circle cx="1599.95" cy="1592.1" r="2.0" fill="#9a9a9a" stroke="#222" stroke-width="1.3"/>
<circle cx="1591.93" cy="1578.2" r="2.0" fill="#9a9a9a" stroke="#222" stroke-width="1.3"/>
<circle cx="1575.88" cy="1578.2" r="2.0" fill="#9a9a9a" stroke="#222" stroke-width="1.3"/>
<circle cx="1567.85" cy="1592.1" r="2.0" fill="#9a9a9a" stroke="#222" stroke-width="1.3"/>
<circle cx="1575.88" cy="1606" r="2.0" fill="#9a9a9a" stroke="#222" stroke-width="1.3"/>
<circle cx="1591.93" cy="1606" r="2.0" fill="#9a9a9a" stroke="#222" stroke-width="1.3"/>
<circle cx="1616" cy="1592.1" r="2.0" fill="#9a9a9a" stroke="#222" stroke-width="1.3"/>
<circle cx="1611.7" cy="1576.05" r="2.0" fill="#9a9a9a" stroke="#222" stroke-width="1.3"/>
<circle cx="1599.95" cy="1564.3" r="2.0" fill="#9a9a9a" stroke="#222" stroke-width="1.3"/>
<circle cx="1583.9" cy="1560" r="2.0" fill="#9a9a9a" stroke="#222" stroke-width="1.3"/>
<circle cx="1567.85" cy="1564.3" r="2.0" fill="#9a9a9a" stroke="#222" stroke-width="1.3"/>
<circle cx="1556.1" cy="1576.05" r="2.0" fill="#9a9a9a" stroke="#222" stroke-width="1.3"/>
<circle cx="1551.8" cy="1592.1" r="2.0" fill="#9a9a9a" stroke="#222" stroke-width="1.3"/>
<circle cx="1556.1" cy="1608.15" r="2.0" fill="#9a9a9a" stroke="#222" stroke-width="1.3"/>
<circle cx="1567.85" cy="1619.9" r="2.0" fill="#9a9a9a" stroke="#222" stroke-width="1.3"/>
<circle cx="1583.9" cy="1624.2" r="2.0" fill="#9a9a9a" stroke="#222" stroke-width="1.3"/>
<circle cx="1599.95" cy="1619.9" r="2.0" fill="#9a9a9a" stroke="#222" stroke-width="1.3"/>
<circle cx="1611.7" cy="1608.15" r="2.0" fill="#9a9a9a" stroke="#222" stroke-width="1.3"/>
<circle cx="1632.05" cy="1592.1" r="2.0" fill="#9a9a9a" stroke="#222" stroke-width="1.3"/>
<circle cx="1629.15" cy="1575.63" r="2.0" fill="#9a9a9a" stroke="#222" stroke-width="1.3"/>
<circle cx="1620.79" cy="1561.15" r="2.0" fill="#9a9a9a" stroke="#222" stroke-width="1.3"/>
<circle cx="1607.98" cy="1550.4" r="2.0" fill="#9a9a9a" stroke="#222" stroke-width="1.3"/>
<circle cx="1592.26" cy="1544.68" r="2.0" fill="#9a9a9a" stroke="#222" stroke-width="1.3"/>
<circle cx="1575.54" cy="1544.68" r="2.0" fill="#9a9a9a" stroke="#222" stroke-width="1.3"/>
<circle cx="1559.83" cy="1550.4" r="2.0" fill="#9a9a9a" stroke="#222" stroke-width="1.3"/>
<circle cx="1547.01" cy="1561.15" r="2.0" fill="#9a9a9a" stroke="#222" stroke-width="1.3"/>
<circle cx="1538.65" cy="1575.63" r="2.0" fill="#9a9a9a" stroke="#222" stroke-width="1.3"/>
<circle cx="1535.75" cy="1592.1" r="2.0" fill="#9a9a9a" stroke="#222" stroke-width="1.3"/>
<circle cx="1538.65" cy="1608.57" r="2.0" fill="#9a9a9a" stroke="#222" stroke-width="1.3"/>
<circle cx="1547.01" cy="1623.05" r="2.0" fill="#9a9a9a" stroke="#222" stroke-width="1.3"/>
<circle cx="1559.83" cy="1633.8" r="2.0" fill="#9a9a9a" stroke="#222" stroke-width="1.3"/>
<circle cx="1575.54" cy="1639.52" r="2.0" fill="#9a9a9a" stroke="#222" stroke-width="1.3"/>
<circle cx="1592.26" cy="1639.52" r="2.0" fill="#9a9a9a" stroke="#222" stroke-width="1.3"/>
<circle cx="1607.98" cy="1633.8" r="2.0" fill="#9a9a9a" stroke="#222" stroke-width="1.3"/>
<circle cx="1620.79" cy="1623.05" r="2.0" fill="#9a9a9a" stroke="#222" stroke-width="1.3"/>
<circle cx="1629.15" cy="1608.57" r="2.0" fill="#9a9a9a" stroke="#222" stroke-width="1.3"/>
<circle cx="1648.1" cy="1592.1" r="2.0" fill="#9a9a9a" stroke="#222" stroke-width="1.3"/>
<circle cx="1645.91" cy="1575.48" r="2.0" fill="#9a9a9a" stroke="#222" stroke-width="1.3"/>
<circle cx="1639.5" cy="1560" r="2.0" fill="#9a9a9a" stroke="#222" stroke-width="1.3"/>
<circle cx="1629.3" cy="1546.7" r="2.0" fill="#9a9a9a" stroke="#222" stroke-width="1.3"/>
<circle cx="1616" cy="1536.5" r="2.0" fill="#9a9a9a" stroke="#222" stroke-width="1.3"/>
<circle cx="1600.52" cy="1530.09" r="2.0" fill="#9a9a9a" stroke="#222" stroke-width="1.3"/>
<circle cx="1583.9" cy="1527.9" r="2.0" fill="#9a9a9a" stroke="#222" stroke-width="1.3"/>
<circle cx="1567.28" cy="1530.09" r="2.0" fill="#9a9a9a" stroke="#222" stroke-width="1.3"/>
<circle cx="1551.8" cy="1536.5" r="2.0" fill="#9a9a9a" stroke="#222" stroke-width="1.3"/>
<circle cx="1538.5" cy="1546.7" r="2.0" fill="#9a9a9a" stroke="#222" stroke-width="1.3"/>
<circle cx="1528.3" cy="1560" r="2.0" fill="#9a9a9a" stroke="#222" stroke-width="1.3"/>
<circle cx="1521.89" cy="1575.48" r="2.0" fill="#9a9a9a" stroke="#222" stroke-width="1.3"/>
<circle cx="1519.7" cy="1592.1" r="2.0" fill="#9a9a9a" stroke="#222" stroke-width="1.3"/>
<circle cx="1521.89" cy="1608.72" r="2.0" fill="#9a9a9a" stroke="#222" stroke-width="1.3"/>
<circle cx="1528.3" cy="1624.2" r="2.0" fill="#9a9a9a" stroke="#222" stroke-width="1.3"/>
<circle cx="1538.5" cy="1637.5" r="2.0" fill="#9a9a9a" stroke="#222" stroke-width="1.3"/>
<circle cx="1551.8" cy="1647.7" r="2.0" fill="#9a9a9a" stroke="#222" stroke-width="1.3"/>
<circle cx="1567.28" cy="1654.11" r="2.0" fill="#9a9a9a" stroke="#222" stroke-width="1.3"/>
<circle cx="1583.9" cy="1656.3" r="2.0" fill="#9a9a9a" stroke="#222" stroke-width="1.3"/>
<circle cx="1600.52" cy="1654.11" r="2.0" fill="#9a9a9a" stroke="#222" stroke-width="1.3"/>
<circle cx="1616" cy="1647.7" r="2.0" fill="#9a9a9a" stroke="#222" stroke-width="1.3"/>
<circle cx="1629.3" cy="1637.5" r="2.0" fill="#9a9a9a" stroke="#222" stroke-width="1.3"/>
<circle cx="1639.5" cy="1624.2" r="2.0" fill="#9a9a9a" stroke="#222" stroke-width="1.3"/>
<circle cx="1645.91" cy="1608.72" r="2.0" fill="#9a9a9a" stroke="#222" stroke-width="1.3"/>
<circle cx="1664.15" cy="1592.1" r="2.0" fill="#9a9a9a" stroke="#222" stroke-width="1.3"/>
<circle cx="1662.4" cy="1575.42" r="2.0" fill="#9a9a9a" stroke="#222" stroke-width="1.3"/>
<circle cx="1657.21" cy="1559.46" r="2.0" fill="#9a9a9a" stroke="#222" stroke-width="1.3"/>
<circle cx="1648.82" cy="1544.93" r="2.0" fill="#9a9a9a" stroke="#222" stroke-width="1.3"/>
<circle cx="1637.6" cy="1532.46" r="2.0" fill="#9a9a9a" stroke="#222" stroke-width="1.3"/>
<circle cx="1624.03" cy="1522.6" r="2.0" fill="#9a9a9a" stroke="#222" stroke-width="1.3"/>
<circle cx="1608.7" cy="1515.78" r="2.0" fill="#9a9a9a" stroke="#222" stroke-width="1.3"/>
<circle cx="1592.29" cy="1512.29" r="2.0" fill="#9a9a9a" stroke="#222" stroke-width="1.3"/>
<circle cx="1575.51" cy="1512.29" r="2.0" fill="#9a9a9a" stroke="#222" stroke-width="1.3"/>
<circle cx="1559.1" cy="1515.78" r="2.0" fill="#9a9a9a" stroke="#222" stroke-width="1.3"/>
<circle cx="1543.78" cy="1522.6" r="2.0" fill="#9a9a9a" stroke="#222" stroke-width="1.3"/>
<circle cx="1530.2" cy="1532.46" r="2.0" fill="#9a9a9a" stroke="#222" stroke-width="1.3"/>
<circle cx="1518.98" cy="1544.93" r="2.0" fill="#9a9a9a" stroke="#222" stroke-width="1.3"/>
<circle cx="1510.59" cy="1559.46" r="2.0" fill="#9a9a9a" stroke="#222" stroke-width="1.3"/>
<circle cx="1505.4" cy="1575.42" r="2.0" fill="#9a9a9a" stroke="#222" stroke-width="1.3"/>
<circle cx="1503.65" cy="1592.1" r="2.0" fill="#9a9a9a" stroke="#222" stroke-width="1.3"/>
<circle cx="1505.4" cy="1608.78" r="2.0" fill="#9a9a9a" stroke="#222" stroke-width="1.3"/>
<circle cx="1510.59" cy="1624.74" r="2.0" fill="#9a9a9a" stroke="#222" stroke-width="1.3"/>
<circle cx="1518.98" cy="1639.27" r="2.0" fill="#9a9a9a" stroke="#222" stroke-width="1.3"/>
<circle cx="1530.2" cy="1651.74" r="2.0" fill="#9a9a9a" stroke="#222" stroke-width="1.3"/>
<circle cx="1543.78" cy="1661.6" r="2.0" fill="#9a9a9a" stroke="#222" stroke-width="1.3"/>
<circle cx="1559.1" cy="1668.42" r="2.0" fill="#9a9a9a" stroke="#222" stroke-width="1.3"/>
<circle cx="1575.51" cy="1671.91" r="2.0" fill="#9a9a9a" stroke="#222" stroke-width="1.3"/>
<circle cx="1592.29" cy="1671.91" r="2.0" fill="#9a9a9a" stroke="#222" stroke-width="1.3"/>
<circle cx="1608.7" cy="1668.42" r="2.0" fill="#9a9a9a" stroke="#222" stroke-width="1.3"/>
<circle cx="1624.03" cy="1661.6" r="2.0" fill="#9a9a9a" stroke="#222" stroke-width="1.3"/>
<circle cx="1637.6" cy="1651.74" r="2.0" fill="#9a9a9a" stroke="#222" stroke-width="1.3"/>
<circle cx="1648.82" cy="1639.27" r="2.0" fill="#9a9a9a" stroke="#222" stroke-width="1.3"/>
<circle cx="1657.21" cy="1624.74" r="2.0" fill="#9a9a9a" stroke="#222" stroke-width="1.3"/>
<circle cx="1662.4" cy="1608.78" r="2.0" fill="#9a9a9a" stroke="#222" stroke-width="1.3"/>
<circle cx="1680.2" cy="1592.1" r="2.0" fill="#9a9a9a" stroke="#222" stroke-width="1.3"/>
<circle cx="1678.1" cy="1572.08" r="2.0" fill="#9a9a9a" stroke="#222" stroke-width="1.3"/>
<circle cx="1671.87" cy="1552.93" r="2.0" fill="#9a9a9a" stroke="#222" stroke-width="1.3"/>
<circle cx="1661.81" cy="1535.5" r="2.0" fill="#9a9a9a" stroke="#222" stroke-width="1.3"/>
<circle cx="1648.34" cy="1520.54" r="2.0" fill="#9a9a9a" stroke="#222" stroke-width="1.3"/>
<circle cx="1632.05" cy="1508.7" r="2.0" fill="#9a9a9a" stroke="#222" stroke-width="1.3"/>
<circle cx="1613.66" cy="1500.51" r="2.0" fill="#9a9a9a" stroke="#222" stroke-width="1.3"/>
<circle cx="1593.97" cy="1496.33" r="2.0" fill="#9a9a9a" stroke="#222" stroke-width="1.3"/>
<circle cx="1573.83" cy="1496.33" r="2.0" fill="#9a9a9a" stroke="#222" stroke-width="1.3"/>
<circle cx="1554.14" cy="1500.51" r="2.0" fill="#9a9a9a" stroke="#222" stroke-width="1.3"/>
<circle cx="1535.75" cy="1508.7" r="2.0" fill="#9a9a9a" stroke="#222" stroke-width="1.3"/>
<circle cx="1519.46" cy="1520.54" r="2.0" fill="#9a9a9a" stroke="#222" stroke-width="1.3"/>
<circle cx="1505.99" cy="1535.5" r="2.0" fill="#9a9a9a" stroke="#222" stroke-width="1.3"/>
<circle cx="1495.93" cy="1552.93" r="2.0" fill="#9a9a9a" stroke="#222" stroke-width="1.3"/>
<circle cx="1489.7" cy="1572.08" r="2.0" fill="#9a9a9a" stroke="#222" stroke-width="1.3"/>
<circle cx="1487.6" cy="1592.1" r="2.0" fill="#9a9a9a" stroke="#222" stroke-width="1.3"/>
<circle cx="1489.7" cy="1612.12" r="2.0" fill="#9a9a9a" stroke="#222" stroke-width="1.3"/>
<circle cx="1495.93" cy="1631.27" r="2.0" fill="#9a9a9a" stroke="#222" stroke-width="1.3"/>
<circle cx="1505.99" cy="1648.7" r="2.0" fill="#9a9a9a" stroke="#222" stroke-width="1.3"/>
<circle cx="1519.46" cy="1663.66" r="2.0" fill="#9a9a9a" stroke="#222" stroke-width="1.3"/>
<circle cx="1535.75" cy="1675.5" r="2.0" fill="#9a9a9a" stroke="#222" stroke-width="1.3"/>
<circle cx="1554.14" cy="1683.69" r="2.0" fill="#9a9a9a" stroke="#222" stroke-width="1.3"/>
<circle cx="1573.83" cy="1687.87" r="2.0" fill="#9a9a9a" stroke="#222" stroke-width="1.3"/>
<circle cx="1593.97" cy="1687.87" r="2.0" fill="#9a9a9a" stroke="#222" stroke-width="1.3"/>
<circle cx="1613.66" cy="1683.69" r="2.0" fill="#9a9a9a" stroke="#222" stroke-width="1.3"/>
<circle cx="1632.05" cy="1675.5" r="2.0" fill="#9a9a9a" stroke="#222" stroke-width="1.3"/>
<circle cx="1648.34" cy="1663.66" r="2.0" fill="#9a9a9a" stroke="#222" stroke-width="1.3"/>
<circle cx="1661.81" cy="1648.7" r="2.0" fill="#9a9a9a" stroke="#222" stroke-width="1.3"/>
<circle cx="1671.87" cy="1631.27" r="2.0" fill="#9a9a9a" stroke="#222" stroke-width="1.3"/>
<circle cx="1678.1" cy="1612.12" r="2.0" fill="#9a9a9a" stroke="#222" stroke-width="1.3"/>
<circle cx="1696.25" cy="1592.1" r="2.0" fill="#9a9a9a" stroke="#222" stroke-width="1.3"/>
<circle cx="1693.79" cy="1568.74" r="2.0" fill="#9a9a9a" stroke="#222" stroke-width="1.3"/>
<circle cx="1686.54" cy="1546.4" r="2.0" fill="#9a9a9a" stroke="#222" stroke-width="1.3"/>
<circle cx="1674.79" cy="1526.06" r="2.0" fill="#9a9a9a" stroke="#222" stroke-width="1.3"/>
<circle cx="1659.08" cy="1508.61" r="2.0" fill="#9a9a9a" stroke="#222" stroke-width="1.3"/>
<circle cx="1640.08" cy="1494.8" r="2.0" fill="#9a9a9a" stroke="#222" stroke-width="1.3"/>
<circle cx="1618.62" cy="1485.25" r="2.0" fill="#9a9a9a" stroke="#222" stroke-width="1.3"/>
<circle cx="1595.64" cy="1480.37" r="2.0" fill="#9a9a9a" stroke="#222" stroke-width="1.3"/>
<circle cx="1572.16" cy="1480.37" r="2.0" fill="#9a9a9a" stroke="#222" stroke-width="1.3"/>
<circle cx="1549.18" cy="1485.25" r="2.0" fill="#9a9a9a" stroke="#222" stroke-width="1.3"/>
<circle cx="1527.73" cy="1494.8" r="2.0" fill="#9a9a9a" stroke="#222" stroke-width="1.3"/>
<circle cx="1508.72" cy="1508.61" r="2.0" fill="#9a9a9a" stroke="#222" stroke-width="1.3"/>
<circle cx="1493.01" cy="1526.06" r="2.0" fill="#9a9a9a" stroke="#222" stroke-width="1.3"/>
<circle cx="1481.26" cy="1546.4" r="2.0" fill="#9a9a9a" stroke="#222" stroke-width="1.3"/>
<circle cx="1474.01" cy="1568.74" r="2.0" fill="#9a9a9a" stroke="#222" stroke-width="1.3"/>
<circle cx="1471.55" cy="1592.1" r="2.0" fill="#9a9a9a" stroke="#222" stroke-width="1.3"/>
<circle cx="1474.01" cy="1615.46" r="2.0" fill="#9a9a9a" stroke="#222" stroke-width="1.3"/>
<circle cx="1481.26" cy="1637.8" r="2.0" fill="#9a9a9a" stroke="#222" stroke-width="1.3"/>
<circle cx="1493.01" cy="1658.14" r="2.0" fill="#9a9a9a" stroke="#222" stroke-width="1.3"/>
<circle cx="1508.72" cy="1675.59" r="2.0" fill="#9a9a9a" stroke="#222" stroke-width="1.3"/>
<circle cx="1527.73" cy="1689.4" r="2.0" fill="#9a9a9a" stroke="#222" stroke-width="1.3"/>
<circle cx="1549.18" cy="1698.95" r="2.0" fill="#9a9a9a" stroke="#222" stroke-width="1.3"/>
<circle cx="1572.16" cy="1703.83" r="2.0" fill="#9a9a9a" stroke="#222" stroke-width="1.3"/>
<circle cx="1595.64" cy="1703.83" r="2.0" fill="#9a9a9a" stroke="#222" stroke-width="1.3"/>
<circle cx="1618.62" cy="1698.95" r="2.0" fill="#9a9a9a" stroke="#222" stroke-width="1.3"/>
<circle cx="1640.08" cy="1689.4" r="2.0" fill="#9a9a9a" stroke="#222" stroke-width="1.3"/>
<circle cx="1659.08" cy="1675.59" r="2.0" fill="#9a9a9a" stroke="#222" stroke-width="1.3"/>
<circle cx="1674.79" cy="1658.14" r="2.0" fill="#9a9a9a" stroke="#222" stroke-width="1.3"/>
<circle cx="1686.54" cy="1637.8" r="2.0" fill="#9a9a9a" stroke="#222" stroke-width="1.3"/>
<circle cx="1693.79" cy="1615.46" r="2.0" fill="#9a9a9a" stroke="#222" stroke-width="1.3"/>
<circle cx="1712.3" cy="1592.1" r="2.0" fill="#9a9a9a" stroke="#222" stroke-width="1.3"/>
<circle cx="1709.49" cy="1565.4" r="2.0" fill="#9a9a9a" stroke="#222" stroke-width="1.3"/>
<circle cx="1701.2" cy="1539.88" r="2.0" fill="#9a9a9a" stroke="#222" stroke-width="1.3"/>
<circle cx="1687.78" cy="1516.63" r="2.0" fill="#9a9a9a" stroke="#222" stroke-width="1.3"/>
<circle cx="1669.82" cy="1496.68" r="2.0" fill="#9a9a9a" stroke="#222" stroke-width="1.3"/>
<circle cx="1648.1" cy="1480.9" r="2.0" fill="#9a9a9a" stroke="#222" stroke-width="1.3"/>
<circle cx="1623.58" cy="1469.98" r="2.0" fill="#9a9a9a" stroke="#222" stroke-width="1.3"/>
<circle cx="1597.32" cy="1464.4" r="2.0" fill="#9a9a9a" stroke="#222" stroke-width="1.3"/>
<circle cx="1570.48" cy="1464.4" r="2.0" fill="#9a9a9a" stroke="#222" stroke-width="1.3"/>
<circle cx="1544.22" cy="1469.98" r="2.0" fill="#9a9a9a" stroke="#222" stroke-width="1.3"/>
<circle cx="1519.7" cy="1480.9" r="2.0" fill="#9a9a9a" stroke="#222" stroke-width="1.3"/>
<circle cx="1497.98" cy="1496.68" r="2.0" fill="#9a9a9a" stroke="#222" stroke-width="1.3"/>
<circle cx="1480.02" cy="1516.63" r="2.0" fill="#9a9a9a" stroke="#222" stroke-width="1.3"/>
<circle cx="1466.6" cy="1539.88" r="2.0" fill="#9a9a9a" stroke="#222" stroke-width="1.3"/>
<circle cx="1458.31" cy="1565.4" r="2.0" fill="#9a9a9a" stroke="#222" stroke-width="1.3"/>
<circle cx="1455.5" cy="1592.1" r="2.0" fill="#9a9a9a" stroke="#222" stroke-width="1.3"/>
<circle cx="1458.31" cy="1618.8" r="2.0" fill="#9a9a9a" stroke="#222" stroke-width="1.3"/>
<circle cx="1466.6" cy="1644.32" r="2.0" fill="#9a9a9a" stroke="#222" stroke-width="1.3"/>
<circle cx="1480.02" cy="1667.57" r="2.0" fill="#9a9a9a" stroke="#222" stroke-width="1.3"/>
<circle cx="1497.98" cy="1687.52" r="2.0" fill="#9a9a9a" stroke="#222" stroke-width="1.3"/>
<circle cx="1519.7" cy="1703.3" r="2.0" fill="#9a9a9a" stroke="#222" stroke-width="1.3"/>
<circle cx="1544.22" cy="1714.22" r="2.0" fill="#9a9a9a" stroke="#222" stroke-width="1.3"/>
<circle cx="1570.48" cy="1719.8" r="2.0" fill="#9a9a9a" stroke="#222" stroke-width="1.3"/>
<circle cx="1597.32" cy="1719.8" r="2.0" fill="#9a9a9a" stroke="#222" stroke-width="1.3"/>
<circle cx="1623.58" cy="1714.22" r="2.0" fill="#9a9a9a" stroke="#222" stroke-width="1.3"/>
<circle cx="1648.1" cy="1703.3" r="2.0" fill="#9a9a9a" stroke="#222" stroke-width="1.3"/>
<circle cx="1669.82" cy="1687.52" r="2.0" fill="#9a9a9a" stroke="#222" stroke-width="1.3"/>
<circle cx="1687.78" cy="1667.57" r="2.0" fill="#9a9a9a" stroke="#222" stroke-width="1.3"/>
<circle cx="1701.2" cy="1644.32" r="2.0" fill="#9a9a9a" stroke="#222" stroke-width="1.3"/>
<circle cx="1709.49" cy="1618.8" r="2.0" fill="#9a9a9a" stroke="#222" stroke-width="1.3"/>
<circle cx="1728.35" cy="1592.1" r="2.0" fill="#9a9a9a" stroke="#222" stroke-width="1.3"/>
<circle cx="1725.19" cy="1562.07" r="2.0" fill="#9a9a9a" stroke="#222" stroke-width="1.3"/>
<circle cx="1715.86" cy="1533.35" r="2.0" fill="#9a9a9a" stroke="#222" stroke-width="1.3"/>
<circle cx="1700.76" cy="1507.19" r="2.0" fill="#9a9a9a" stroke="#222" stroke-width="1.3"/>
<circle cx="1680.56" cy="1484.75" r="2.0" fill="#9a9a9a" stroke="#222" stroke-width="1.3"/>
<circle cx="1656.12" cy="1467" r="2.0" fill="#9a9a9a" stroke="#222" stroke-width="1.3"/>
<circle cx="1628.54" cy="1454.72" r="2.0" fill="#9a9a9a" stroke="#222" stroke-width="1.3"/>
<circle cx="1599" cy="1448.44" r="2.0" fill="#9a9a9a" stroke="#222" stroke-width="1.3"/>
<circle cx="1568.8" cy="1448.44" r="2.0" fill="#9a9a9a" stroke="#222" stroke-width="1.3"/>
<circle cx="1539.26" cy="1454.72" r="2.0" fill="#9a9a9a" stroke="#222" stroke-width="1.3"/>
<circle cx="1511.68" cy="1467" r="2.0" fill="#9a9a9a" stroke="#222" stroke-width="1.3"/>
<circle cx="1487.24" cy="1484.75" r="2.0" fill="#9a9a9a" stroke="#222" stroke-width="1.3"/>
<circle cx="1467.04" cy="1507.19" r="2.0" fill="#9a9a9a" stroke="#222" stroke-width="1.3"/>
<circle cx="1451.94" cy="1533.35" r="2.0" fill="#9a9a9a" stroke="#222" stroke-width="1.3"/>
<circle cx="1442.61" cy="1562.07" r="2.0" fill="#9a9a9a" stroke="#222" stroke-width="1.3"/>
<circle cx="1439.45" cy="1592.1" r="2.0" fill="#9a9a9a" stroke="#222" stroke-width="1.3"/>
<circle cx="1442.61" cy="1622.13" r="2.0" fill="#9a9a9a" stroke="#222" stroke-width="1.3"/>
<circle cx="1451.94" cy="1650.85" r="2.0" fill="#9a9a9a" stroke="#222" stroke-width="1.3"/>
<circle cx="1467.04" cy="1677.01" r="2.0" fill="#9a9a9a" stroke="#222" stroke-width="1.3"/>
<circle cx="1487.24" cy="1699.45" r="2.0" fill="#9a9a9a" stroke="#222" stroke-width="1.3"/>
<circle cx="1511.67" cy="1717.2" r="2.0" fill="#9a9a9a" stroke="#222" stroke-width="1.3"/>
<circle cx="1539.26" cy="1729.48" r="2.0" fill="#9a9a9a" stroke="#222" stroke-width="1.3"/>
<circle cx="1568.8" cy="1735.76" r="2.0" fill="#9a9a9a" stroke="#222" stroke-width="1.3"/>
<circle cx="1599" cy="1735.76" r="2.0" fill="#9a9a9a" stroke="#222" stroke-width="1.3"/>
<circle cx="1628.54" cy="1729.48" r="2.0" fill="#9a9a9a" stroke="#222" stroke-width="1.3"/>
<circle cx="1656.12" cy="1717.2" r="2.0" fill="#9a9a9a" stroke="#222" stroke-width="1.3"/>
<circle cx="1680.56" cy="1699.45" r="2.0" fill="#9a9a9a" stroke="#222" stroke-width="1.3"/>
<circle cx="1700.76" cy="1677.01" r="2.0" fill="#9a9a9a" stroke="#222" stroke-width="1.3"/>
<circle cx="1715.86" cy="1650.85" r="2.0" fill="#9a9a9a" stroke="#222" stroke-width="1.3"/>
<circle cx="1725.19" cy="1622.13" r="2.0" fill="#9a9a9a" stroke="#222" stroke-width="1.3"/>
<path d="M1732.7 1404.2L1450.1 1759.8" stroke="#1a1a1a" stroke-width="0.9" fill="none" />
<path d="M1708.38 1434.8L1712.65 1426.69L1715.31 1428.81Z" fill="#1a1a1a"/>
<path d="M1458.77 1748.89L1454.5 1756.99L1451.84 1754.88Z" fill="#1a1a1a"/>
<path d="M1732.7 1404.5L1788.3 1404.5" stroke="#1a1a1a" stroke-width="1.1" fill="none" />
<g transform="translate(1732.06 1398.2)"><text transform="scale(1.0 1.04)" x="0 32.28 55.36 78.44" y="0" font-size="41.5">Ø300</text></g>
</svg></body></html>
